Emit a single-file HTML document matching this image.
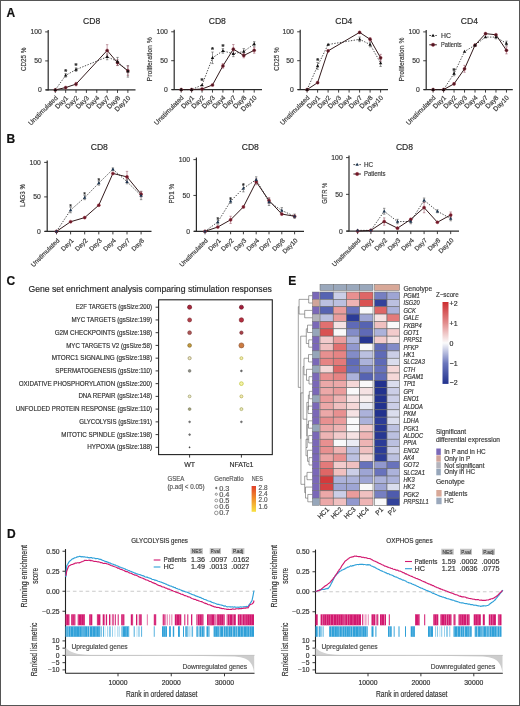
<!DOCTYPE html><html><head><meta charset="utf-8"><style>html,body{margin:0;padding:0;background:#fff;}svg{display:block;will-change:transform;}</style></head><body><svg width="520" height="706" viewBox="0 0 520 706" font-family='"Liberation Sans", sans-serif'>
<rect x="0.00" y="0.00" width="520.00" height="706.00" fill="#fff"/>
<text x="6.50" y="16.50" font-size="12" text-anchor="start" fill="#111" stroke="#111" stroke-width="0.18" font-weight="bold">A</text>
<line x1="48.20" y1="29.90" x2="48.20" y2="90.40" stroke="#2a2a2a" stroke-width="1.2"/>
<line x1="45.70" y1="89.90" x2="135.50" y2="89.90" stroke="#2a2a2a" stroke-width="1.3"/>
<line x1="45.20" y1="89.90" x2="48.20" y2="89.90" stroke="#2a2a2a" stroke-width="0.9"/>
<text x="41.90" y="92.30" font-size="6.8" text-anchor="end" fill="#3a3a3a" stroke="#3a3a3a" stroke-width="0.18">0</text>
<line x1="45.20" y1="60.90" x2="48.20" y2="60.90" stroke="#2a2a2a" stroke-width="0.9"/>
<text x="41.90" y="63.30" font-size="6.8" text-anchor="end" fill="#3a3a3a" stroke="#3a3a3a" stroke-width="0.18">50</text>
<line x1="45.20" y1="31.90" x2="48.20" y2="31.90" stroke="#2a2a2a" stroke-width="0.9"/>
<text x="41.90" y="34.30" font-size="6.8" text-anchor="end" fill="#3a3a3a" stroke="#3a3a3a" stroke-width="0.18">100</text>
<line x1="55.30" y1="89.90" x2="55.30" y2="92.90" stroke="#2a2a2a" stroke-width="0.9"/>
<text x="58.30" y="98.40" font-size="6.65" text-anchor="end" fill="#3a3a3a" stroke="#3a3a3a" stroke-width="0.18" transform="rotate(-45 58.3 98.4)">Unstimulated</text>
<line x1="65.67" y1="89.90" x2="65.67" y2="92.90" stroke="#2a2a2a" stroke-width="0.9"/>
<text x="68.67" y="98.40" font-size="6.65" text-anchor="end" fill="#3a3a3a" stroke="#3a3a3a" stroke-width="0.18" transform="rotate(-45 68.67 98.4)">Day1</text>
<line x1="76.04" y1="89.90" x2="76.04" y2="92.90" stroke="#2a2a2a" stroke-width="0.9"/>
<text x="79.04" y="98.40" font-size="6.65" text-anchor="end" fill="#3a3a3a" stroke="#3a3a3a" stroke-width="0.18" transform="rotate(-45 79.03999999999999 98.4)">Day2</text>
<line x1="86.41" y1="89.90" x2="86.41" y2="92.90" stroke="#2a2a2a" stroke-width="0.9"/>
<text x="89.41" y="98.40" font-size="6.65" text-anchor="end" fill="#3a3a3a" stroke="#3a3a3a" stroke-width="0.18" transform="rotate(-45 89.41 98.4)">Day3</text>
<line x1="96.78" y1="89.90" x2="96.78" y2="92.90" stroke="#2a2a2a" stroke-width="0.9"/>
<text x="99.78" y="98.40" font-size="6.65" text-anchor="end" fill="#3a3a3a" stroke="#3a3a3a" stroke-width="0.18" transform="rotate(-45 99.78 98.4)">Day4</text>
<line x1="107.15" y1="89.90" x2="107.15" y2="92.90" stroke="#2a2a2a" stroke-width="0.9"/>
<text x="110.15" y="98.40" font-size="6.65" text-anchor="end" fill="#3a3a3a" stroke="#3a3a3a" stroke-width="0.18" transform="rotate(-45 110.14999999999999 98.4)">Day7</text>
<line x1="117.52" y1="89.90" x2="117.52" y2="92.90" stroke="#2a2a2a" stroke-width="0.9"/>
<text x="120.52" y="98.40" font-size="6.65" text-anchor="end" fill="#3a3a3a" stroke="#3a3a3a" stroke-width="0.18" transform="rotate(-45 120.52 98.4)">Day8</text>
<line x1="127.89" y1="89.90" x2="127.89" y2="92.90" stroke="#2a2a2a" stroke-width="0.9"/>
<text x="130.89" y="98.40" font-size="6.65" text-anchor="end" fill="#3a3a3a" stroke="#3a3a3a" stroke-width="0.18" transform="rotate(-45 130.89 98.4)">Day10</text>
<text x="91.70" y="23.70" font-size="9.3" text-anchor="middle" fill="#2a2a2a" stroke="#2a2a2a" stroke-width="0.18" textLength="17.2" lengthAdjust="spacingAndGlyphs">CD8</text>
<text x="26.20" y="59.30" font-size="8.0" text-anchor="middle" fill="#3a3a3a" stroke="#3a3a3a" stroke-width="0.18" transform="rotate(-90 26.2 59.3)" textLength="23.5" lengthAdjust="spacingAndGlyphs">CD25 %</text>
<path d="M55.30 89.90 L65.67 87.58 L76.04 84.10 L107.15 50.46 L117.52 62.64 L127.89 70.76" fill="none" stroke="#331a1c" stroke-width="1"/>
<path d="M55.30 89.90 L65.67 75.40 L76.04 69.60 L107.15 56.84 L117.52 61.48 L127.89 71.34" fill="none" stroke="#222" stroke-width="0.8" stroke-dasharray="1.4 1.4"/>
<line x1="65.67" y1="77.14" x2="65.67" y2="73.66" stroke="#555" stroke-width="0.6"/>
<line x1="64.47" y1="73.66" x2="66.87" y2="73.66" stroke="#555" stroke-width="0.6"/>
<line x1="64.47" y1="77.14" x2="66.87" y2="77.14" stroke="#555" stroke-width="0.6"/>
<line x1="76.04" y1="71.34" x2="76.04" y2="67.86" stroke="#555" stroke-width="0.6"/>
<line x1="74.84" y1="67.86" x2="77.24" y2="67.86" stroke="#555" stroke-width="0.6"/>
<line x1="74.84" y1="71.34" x2="77.24" y2="71.34" stroke="#555" stroke-width="0.6"/>
<line x1="107.15" y1="59.74" x2="107.15" y2="53.94" stroke="#555" stroke-width="0.6"/>
<line x1="105.95" y1="53.94" x2="108.35" y2="53.94" stroke="#555" stroke-width="0.6"/>
<line x1="105.95" y1="59.74" x2="108.35" y2="59.74" stroke="#555" stroke-width="0.6"/>
<line x1="117.52" y1="65.54" x2="117.52" y2="57.42" stroke="#555" stroke-width="0.6"/>
<line x1="116.32" y1="57.42" x2="118.72" y2="57.42" stroke="#555" stroke-width="0.6"/>
<line x1="116.32" y1="65.54" x2="118.72" y2="65.54" stroke="#555" stroke-width="0.6"/>
<line x1="127.89" y1="77.14" x2="127.89" y2="65.54" stroke="#555" stroke-width="0.6"/>
<line x1="126.69" y1="65.54" x2="129.09" y2="65.54" stroke="#555" stroke-width="0.6"/>
<line x1="126.69" y1="77.14" x2="129.09" y2="77.14" stroke="#555" stroke-width="0.6"/>
<line x1="107.15" y1="56.26" x2="107.15" y2="44.66" stroke="#a06070" stroke-width="0.6"/>
<line x1="105.95" y1="44.66" x2="108.35" y2="44.66" stroke="#a06070" stroke-width="0.6"/>
<line x1="105.95" y1="56.26" x2="108.35" y2="56.26" stroke="#a06070" stroke-width="0.6"/>
<line x1="117.52" y1="65.54" x2="117.52" y2="59.74" stroke="#a06070" stroke-width="0.6"/>
<line x1="116.32" y1="59.74" x2="118.72" y2="59.74" stroke="#a06070" stroke-width="0.6"/>
<line x1="116.32" y1="65.54" x2="118.72" y2="65.54" stroke="#a06070" stroke-width="0.6"/>
<line x1="127.89" y1="75.40" x2="127.89" y2="66.12" stroke="#a06070" stroke-width="0.6"/>
<line x1="126.69" y1="66.12" x2="129.09" y2="66.12" stroke="#a06070" stroke-width="0.6"/>
<line x1="126.69" y1="75.40" x2="129.09" y2="75.40" stroke="#a06070" stroke-width="0.6"/>
<line x1="76.04" y1="85.84" x2="76.04" y2="82.36" stroke="#a06070" stroke-width="0.6"/>
<line x1="74.84" y1="82.36" x2="77.24" y2="82.36" stroke="#a06070" stroke-width="0.6"/>
<line x1="74.84" y1="85.84" x2="77.24" y2="85.84" stroke="#a06070" stroke-width="0.6"/>
<circle cx="55.30" cy="89.90" r="1.55" fill="#4e1622" stroke="#9a3040" stroke-width="0.4"/>
<circle cx="65.67" cy="87.58" r="1.55" fill="#4e1622" stroke="#9a3040" stroke-width="0.4"/>
<circle cx="76.04" cy="84.10" r="1.55" fill="#4e1622" stroke="#9a3040" stroke-width="0.4"/>
<circle cx="107.15" cy="50.46" r="1.55" fill="#4e1622" stroke="#9a3040" stroke-width="0.4"/>
<circle cx="117.52" cy="62.64" r="1.55" fill="#4e1622" stroke="#9a3040" stroke-width="0.4"/>
<circle cx="127.89" cy="70.76" r="1.55" fill="#4e1622" stroke="#9a3040" stroke-width="0.4"/>
<path d="M55.30 88.06 L57.00 91.12 L53.60 91.12Z" fill="#111"/>
<path d="M65.67 73.56 L67.37 76.62 L63.97 76.62Z" fill="#111"/>
<path d="M76.04 67.76 L77.74 70.82 L74.34 70.82Z" fill="#111"/>
<path d="M107.15 55.00 L108.85 58.06 L105.45 58.06Z" fill="#111"/>
<path d="M117.52 59.64 L119.22 62.70 L115.82 62.70Z" fill="#111"/>
<path d="M127.89 69.50 L129.59 72.56 L126.19 72.56Z" fill="#111"/>
<text x="65.67" y="73.91" font-size="7.5" text-anchor="middle" fill="#222" stroke="#222" stroke-width="0.18" font-weight="bold">*</text>
<text x="76.04" y="68.40" font-size="7.5" text-anchor="middle" fill="#222" stroke="#222" stroke-width="0.18" font-weight="bold">*</text>
<line x1="174.20" y1="29.80" x2="174.20" y2="90.10" stroke="#2a2a2a" stroke-width="1.2"/>
<line x1="171.70" y1="89.60" x2="262.00" y2="89.60" stroke="#2a2a2a" stroke-width="1.3"/>
<line x1="171.20" y1="89.60" x2="174.20" y2="89.60" stroke="#2a2a2a" stroke-width="0.9"/>
<text x="167.90" y="92.00" font-size="6.8" text-anchor="end" fill="#3a3a3a" stroke="#3a3a3a" stroke-width="0.18">0</text>
<line x1="171.20" y1="60.70" x2="174.20" y2="60.70" stroke="#2a2a2a" stroke-width="0.9"/>
<text x="167.90" y="63.10" font-size="6.8" text-anchor="end" fill="#3a3a3a" stroke="#3a3a3a" stroke-width="0.18">50</text>
<line x1="171.20" y1="31.80" x2="174.20" y2="31.80" stroke="#2a2a2a" stroke-width="0.9"/>
<text x="167.90" y="34.20" font-size="6.8" text-anchor="end" fill="#3a3a3a" stroke="#3a3a3a" stroke-width="0.18">100</text>
<line x1="181.20" y1="89.60" x2="181.20" y2="92.60" stroke="#2a2a2a" stroke-width="0.9"/>
<text x="184.20" y="98.10" font-size="6.65" text-anchor="end" fill="#3a3a3a" stroke="#3a3a3a" stroke-width="0.18" transform="rotate(-45 184.2 98.1)">Unstimulated</text>
<line x1="191.63" y1="89.60" x2="191.63" y2="92.60" stroke="#2a2a2a" stroke-width="0.9"/>
<text x="194.63" y="98.10" font-size="6.65" text-anchor="end" fill="#3a3a3a" stroke="#3a3a3a" stroke-width="0.18" transform="rotate(-45 194.63 98.1)">Day1</text>
<line x1="202.06" y1="89.60" x2="202.06" y2="92.60" stroke="#2a2a2a" stroke-width="0.9"/>
<text x="205.06" y="98.10" font-size="6.65" text-anchor="end" fill="#3a3a3a" stroke="#3a3a3a" stroke-width="0.18" transform="rotate(-45 205.06 98.1)">Day2</text>
<line x1="212.49" y1="89.60" x2="212.49" y2="92.60" stroke="#2a2a2a" stroke-width="0.9"/>
<text x="215.49" y="98.10" font-size="6.65" text-anchor="end" fill="#3a3a3a" stroke="#3a3a3a" stroke-width="0.18" transform="rotate(-45 215.48999999999998 98.1)">Day3</text>
<line x1="222.92" y1="89.60" x2="222.92" y2="92.60" stroke="#2a2a2a" stroke-width="0.9"/>
<text x="225.92" y="98.10" font-size="6.65" text-anchor="end" fill="#3a3a3a" stroke="#3a3a3a" stroke-width="0.18" transform="rotate(-45 225.92 98.1)">Day4</text>
<line x1="233.35" y1="89.60" x2="233.35" y2="92.60" stroke="#2a2a2a" stroke-width="0.9"/>
<text x="236.35" y="98.10" font-size="6.65" text-anchor="end" fill="#3a3a3a" stroke="#3a3a3a" stroke-width="0.18" transform="rotate(-45 236.35 98.1)">Day7</text>
<line x1="243.78" y1="89.60" x2="243.78" y2="92.60" stroke="#2a2a2a" stroke-width="0.9"/>
<text x="246.78" y="98.10" font-size="6.65" text-anchor="end" fill="#3a3a3a" stroke="#3a3a3a" stroke-width="0.18" transform="rotate(-45 246.77999999999997 98.1)">Day8</text>
<line x1="254.21" y1="89.60" x2="254.21" y2="92.60" stroke="#2a2a2a" stroke-width="0.9"/>
<text x="257.21" y="98.10" font-size="6.65" text-anchor="end" fill="#3a3a3a" stroke="#3a3a3a" stroke-width="0.18" transform="rotate(-45 257.21 98.1)">Day10</text>
<text x="217.30" y="23.70" font-size="9.3" text-anchor="middle" fill="#2a2a2a" stroke="#2a2a2a" stroke-width="0.18" textLength="17.2" lengthAdjust="spacingAndGlyphs">CD8</text>
<text x="152.10" y="59.30" font-size="8.0" text-anchor="middle" fill="#3a3a3a" stroke="#3a3a3a" stroke-width="0.18" transform="rotate(-90 152.1 59.3)" textLength="44.2" lengthAdjust="spacingAndGlyphs">Proliferation %</text>
<path d="M181.20 89.60 L191.63 89.60 L202.06 89.02 L212.49 84.98 L222.92 65.90 L233.35 49.14 L243.78 55.50 L254.21 50.30" fill="none" stroke="#331a1c" stroke-width="1"/>
<path d="M181.20 89.60 L191.63 89.60 L202.06 84.98 L212.49 57.81 L222.92 50.87 L233.35 53.76 L243.78 51.45 L254.21 43.94" fill="none" stroke="#222" stroke-width="0.8" stroke-dasharray="1.4 1.4"/>
<line x1="212.49" y1="63.59" x2="212.49" y2="52.03" stroke="#555" stroke-width="0.6"/>
<line x1="211.29" y1="52.03" x2="213.69" y2="52.03" stroke="#555" stroke-width="0.6"/>
<line x1="211.29" y1="63.59" x2="213.69" y2="63.59" stroke="#555" stroke-width="0.6"/>
<line x1="222.92" y1="53.19" x2="222.92" y2="48.56" stroke="#555" stroke-width="0.6"/>
<line x1="221.72" y1="48.56" x2="224.12" y2="48.56" stroke="#555" stroke-width="0.6"/>
<line x1="221.72" y1="53.19" x2="224.12" y2="53.19" stroke="#555" stroke-width="0.6"/>
<line x1="233.35" y1="56.65" x2="233.35" y2="50.87" stroke="#555" stroke-width="0.6"/>
<line x1="232.15" y1="50.87" x2="234.55" y2="50.87" stroke="#555" stroke-width="0.6"/>
<line x1="232.15" y1="56.65" x2="234.55" y2="56.65" stroke="#555" stroke-width="0.6"/>
<line x1="243.78" y1="54.34" x2="243.78" y2="48.56" stroke="#555" stroke-width="0.6"/>
<line x1="242.58" y1="48.56" x2="244.98" y2="48.56" stroke="#555" stroke-width="0.6"/>
<line x1="242.58" y1="54.34" x2="244.98" y2="54.34" stroke="#555" stroke-width="0.6"/>
<line x1="254.21" y1="46.25" x2="254.21" y2="41.63" stroke="#555" stroke-width="0.6"/>
<line x1="253.01" y1="41.63" x2="255.41" y2="41.63" stroke="#555" stroke-width="0.6"/>
<line x1="253.01" y1="46.25" x2="255.41" y2="46.25" stroke="#555" stroke-width="0.6"/>
<line x1="222.92" y1="68.21" x2="222.92" y2="63.59" stroke="#a06070" stroke-width="0.6"/>
<line x1="221.72" y1="63.59" x2="224.12" y2="63.59" stroke="#a06070" stroke-width="0.6"/>
<line x1="221.72" y1="68.21" x2="224.12" y2="68.21" stroke="#a06070" stroke-width="0.6"/>
<line x1="233.35" y1="53.76" x2="233.35" y2="44.52" stroke="#a06070" stroke-width="0.6"/>
<line x1="232.15" y1="44.52" x2="234.55" y2="44.52" stroke="#a06070" stroke-width="0.6"/>
<line x1="232.15" y1="53.76" x2="234.55" y2="53.76" stroke="#a06070" stroke-width="0.6"/>
<line x1="243.78" y1="57.81" x2="243.78" y2="53.19" stroke="#a06070" stroke-width="0.6"/>
<line x1="242.58" y1="53.19" x2="244.98" y2="53.19" stroke="#a06070" stroke-width="0.6"/>
<line x1="242.58" y1="57.81" x2="244.98" y2="57.81" stroke="#a06070" stroke-width="0.6"/>
<line x1="254.21" y1="53.19" x2="254.21" y2="47.41" stroke="#a06070" stroke-width="0.6"/>
<line x1="253.01" y1="47.41" x2="255.41" y2="47.41" stroke="#a06070" stroke-width="0.6"/>
<line x1="253.01" y1="53.19" x2="255.41" y2="53.19" stroke="#a06070" stroke-width="0.6"/>
<circle cx="181.20" cy="89.60" r="1.55" fill="#4e1622" stroke="#9a3040" stroke-width="0.4"/>
<circle cx="191.63" cy="89.60" r="1.55" fill="#4e1622" stroke="#9a3040" stroke-width="0.4"/>
<circle cx="202.06" cy="89.02" r="1.55" fill="#4e1622" stroke="#9a3040" stroke-width="0.4"/>
<circle cx="212.49" cy="84.98" r="1.55" fill="#4e1622" stroke="#9a3040" stroke-width="0.4"/>
<circle cx="222.92" cy="65.90" r="1.55" fill="#4e1622" stroke="#9a3040" stroke-width="0.4"/>
<circle cx="233.35" cy="49.14" r="1.55" fill="#4e1622" stroke="#9a3040" stroke-width="0.4"/>
<circle cx="243.78" cy="55.50" r="1.55" fill="#4e1622" stroke="#9a3040" stroke-width="0.4"/>
<circle cx="254.21" cy="50.30" r="1.55" fill="#4e1622" stroke="#9a3040" stroke-width="0.4"/>
<path d="M181.20 87.76 L182.90 90.82 L179.50 90.82Z" fill="#111"/>
<path d="M191.63 87.76 L193.33 90.82 L189.93 90.82Z" fill="#111"/>
<path d="M202.06 83.14 L203.76 86.20 L200.36 86.20Z" fill="#111"/>
<path d="M212.49 55.97 L214.19 59.03 L210.79 59.03Z" fill="#111"/>
<path d="M222.92 49.04 L224.62 52.10 L221.22 52.10Z" fill="#111"/>
<path d="M233.35 51.93 L235.05 54.99 L231.65 54.99Z" fill="#111"/>
<path d="M243.78 49.62 L245.48 52.68 L242.08 52.68Z" fill="#111"/>
<path d="M254.21 42.10 L255.91 45.16 L252.51 45.16Z" fill="#111"/>
<text x="202.06" y="83.05" font-size="7.5" text-anchor="middle" fill="#222" stroke="#222" stroke-width="0.18" font-weight="bold">*</text>
<text x="212.49" y="51.83" font-size="7.5" text-anchor="middle" fill="#222" stroke="#222" stroke-width="0.18" font-weight="bold">*</text>
<text x="222.92" y="48.83" font-size="7.5" text-anchor="middle" fill="#222" stroke="#222" stroke-width="0.18" font-weight="bold">*</text>
<line x1="300.20" y1="29.80" x2="300.20" y2="90.10" stroke="#2a2a2a" stroke-width="1.2"/>
<line x1="297.70" y1="89.60" x2="388.00" y2="89.60" stroke="#2a2a2a" stroke-width="1.3"/>
<line x1="297.20" y1="89.60" x2="300.20" y2="89.60" stroke="#2a2a2a" stroke-width="0.9"/>
<text x="293.90" y="92.00" font-size="6.8" text-anchor="end" fill="#3a3a3a" stroke="#3a3a3a" stroke-width="0.18">0</text>
<line x1="297.20" y1="60.70" x2="300.20" y2="60.70" stroke="#2a2a2a" stroke-width="0.9"/>
<text x="293.90" y="63.10" font-size="6.8" text-anchor="end" fill="#3a3a3a" stroke="#3a3a3a" stroke-width="0.18">50</text>
<line x1="297.20" y1="31.80" x2="300.20" y2="31.80" stroke="#2a2a2a" stroke-width="0.9"/>
<text x="293.90" y="34.20" font-size="6.8" text-anchor="end" fill="#3a3a3a" stroke="#3a3a3a" stroke-width="0.18">100</text>
<line x1="307.10" y1="89.60" x2="307.10" y2="92.60" stroke="#2a2a2a" stroke-width="0.9"/>
<text x="310.10" y="98.10" font-size="6.65" text-anchor="end" fill="#3a3a3a" stroke="#3a3a3a" stroke-width="0.18" transform="rotate(-45 310.1 98.1)">Unstimulated</text>
<line x1="317.60" y1="89.60" x2="317.60" y2="92.60" stroke="#2a2a2a" stroke-width="0.9"/>
<text x="320.60" y="98.10" font-size="6.65" text-anchor="end" fill="#3a3a3a" stroke="#3a3a3a" stroke-width="0.18" transform="rotate(-45 320.6 98.1)">Day1</text>
<line x1="328.10" y1="89.60" x2="328.10" y2="92.60" stroke="#2a2a2a" stroke-width="0.9"/>
<text x="331.10" y="98.10" font-size="6.65" text-anchor="end" fill="#3a3a3a" stroke="#3a3a3a" stroke-width="0.18" transform="rotate(-45 331.1 98.1)">Day2</text>
<line x1="338.60" y1="89.60" x2="338.60" y2="92.60" stroke="#2a2a2a" stroke-width="0.9"/>
<text x="341.60" y="98.10" font-size="6.65" text-anchor="end" fill="#3a3a3a" stroke="#3a3a3a" stroke-width="0.18" transform="rotate(-45 341.6 98.1)">Day3</text>
<line x1="349.10" y1="89.60" x2="349.10" y2="92.60" stroke="#2a2a2a" stroke-width="0.9"/>
<text x="352.10" y="98.10" font-size="6.65" text-anchor="end" fill="#3a3a3a" stroke="#3a3a3a" stroke-width="0.18" transform="rotate(-45 352.1 98.1)">Day4</text>
<line x1="359.60" y1="89.60" x2="359.60" y2="92.60" stroke="#2a2a2a" stroke-width="0.9"/>
<text x="362.60" y="98.10" font-size="6.65" text-anchor="end" fill="#3a3a3a" stroke="#3a3a3a" stroke-width="0.18" transform="rotate(-45 362.6 98.1)">Day7</text>
<line x1="370.10" y1="89.60" x2="370.10" y2="92.60" stroke="#2a2a2a" stroke-width="0.9"/>
<text x="373.10" y="98.10" font-size="6.65" text-anchor="end" fill="#3a3a3a" stroke="#3a3a3a" stroke-width="0.18" transform="rotate(-45 373.1 98.1)">Day8</text>
<line x1="380.60" y1="89.60" x2="380.60" y2="92.60" stroke="#2a2a2a" stroke-width="0.9"/>
<text x="383.60" y="98.10" font-size="6.65" text-anchor="end" fill="#3a3a3a" stroke="#3a3a3a" stroke-width="0.18" transform="rotate(-45 383.6 98.1)">Day10</text>
<text x="343.80" y="23.70" font-size="9.3" text-anchor="middle" fill="#2a2a2a" stroke="#2a2a2a" stroke-width="0.18" textLength="17.2" lengthAdjust="spacingAndGlyphs">CD4</text>
<text x="278.60" y="59.10" font-size="8.0" text-anchor="middle" fill="#3a3a3a" stroke="#3a3a3a" stroke-width="0.18" transform="rotate(-90 278.6 59.1)" textLength="23.4" lengthAdjust="spacingAndGlyphs">CD25 %</text>
<path d="M307.10 89.60 L317.60 82.66 L328.10 50.87 L359.60 32.38 L370.10 39.31 L380.60 57.81" fill="none" stroke="#331a1c" stroke-width="1"/>
<path d="M307.10 89.60 L317.60 65.90 L328.10 44.52 L359.60 39.31 L370.10 44.52 L380.60 63.01" fill="none" stroke="#222" stroke-width="0.8" stroke-dasharray="1.4 1.4"/>
<line x1="317.60" y1="69.37" x2="317.60" y2="62.43" stroke="#555" stroke-width="0.6"/>
<line x1="316.40" y1="62.43" x2="318.80" y2="62.43" stroke="#555" stroke-width="0.6"/>
<line x1="316.40" y1="69.37" x2="318.80" y2="69.37" stroke="#555" stroke-width="0.6"/>
<line x1="359.60" y1="41.63" x2="359.60" y2="37.00" stroke="#555" stroke-width="0.6"/>
<line x1="358.40" y1="37.00" x2="360.80" y2="37.00" stroke="#555" stroke-width="0.6"/>
<line x1="358.40" y1="41.63" x2="360.80" y2="41.63" stroke="#555" stroke-width="0.6"/>
<line x1="370.10" y1="46.83" x2="370.10" y2="42.20" stroke="#555" stroke-width="0.6"/>
<line x1="368.90" y1="42.20" x2="371.30" y2="42.20" stroke="#555" stroke-width="0.6"/>
<line x1="368.90" y1="46.83" x2="371.30" y2="46.83" stroke="#555" stroke-width="0.6"/>
<line x1="380.60" y1="66.48" x2="380.60" y2="59.54" stroke="#555" stroke-width="0.6"/>
<line x1="379.40" y1="59.54" x2="381.80" y2="59.54" stroke="#555" stroke-width="0.6"/>
<line x1="379.40" y1="66.48" x2="381.80" y2="66.48" stroke="#555" stroke-width="0.6"/>
<line x1="370.10" y1="41.05" x2="370.10" y2="37.58" stroke="#a06070" stroke-width="0.6"/>
<line x1="368.90" y1="37.58" x2="371.30" y2="37.58" stroke="#a06070" stroke-width="0.6"/>
<line x1="368.90" y1="41.05" x2="371.30" y2="41.05" stroke="#a06070" stroke-width="0.6"/>
<line x1="380.60" y1="61.28" x2="380.60" y2="54.34" stroke="#a06070" stroke-width="0.6"/>
<line x1="379.40" y1="54.34" x2="381.80" y2="54.34" stroke="#a06070" stroke-width="0.6"/>
<line x1="379.40" y1="61.28" x2="381.80" y2="61.28" stroke="#a06070" stroke-width="0.6"/>
<circle cx="307.10" cy="89.60" r="1.55" fill="#4e1622" stroke="#9a3040" stroke-width="0.4"/>
<circle cx="317.60" cy="82.66" r="1.55" fill="#4e1622" stroke="#9a3040" stroke-width="0.4"/>
<circle cx="328.10" cy="50.87" r="1.55" fill="#4e1622" stroke="#9a3040" stroke-width="0.4"/>
<circle cx="359.60" cy="32.38" r="1.55" fill="#4e1622" stroke="#9a3040" stroke-width="0.4"/>
<circle cx="370.10" cy="39.31" r="1.55" fill="#4e1622" stroke="#9a3040" stroke-width="0.4"/>
<circle cx="380.60" cy="57.81" r="1.55" fill="#4e1622" stroke="#9a3040" stroke-width="0.4"/>
<path d="M307.10 87.76 L308.80 90.82 L305.40 90.82Z" fill="#111"/>
<path d="M317.60 64.07 L319.30 67.13 L315.90 67.13Z" fill="#111"/>
<path d="M328.10 42.68 L329.80 45.74 L326.40 45.74Z" fill="#111"/>
<path d="M359.60 37.48 L361.30 40.54 L357.90 40.54Z" fill="#111"/>
<path d="M370.10 42.68 L371.80 45.74 L368.40 45.74Z" fill="#111"/>
<path d="M380.60 61.18 L382.30 64.24 L378.90 64.24Z" fill="#111"/>
<text x="317.60" y="62.82" font-size="7.5" text-anchor="middle" fill="#222" stroke="#222" stroke-width="0.18" font-weight="bold">*</text>
<line x1="426.20" y1="29.90" x2="426.20" y2="90.10" stroke="#2a2a2a" stroke-width="1.2"/>
<line x1="423.70" y1="89.60" x2="512.80" y2="89.60" stroke="#2a2a2a" stroke-width="1.3"/>
<line x1="423.20" y1="89.60" x2="426.20" y2="89.60" stroke="#2a2a2a" stroke-width="0.9"/>
<text x="419.90" y="92.00" font-size="6.8" text-anchor="end" fill="#3a3a3a" stroke="#3a3a3a" stroke-width="0.18">0</text>
<line x1="423.20" y1="60.75" x2="426.20" y2="60.75" stroke="#2a2a2a" stroke-width="0.9"/>
<text x="419.90" y="63.15" font-size="6.8" text-anchor="end" fill="#3a3a3a" stroke="#3a3a3a" stroke-width="0.18">50</text>
<line x1="423.20" y1="31.90" x2="426.20" y2="31.90" stroke="#2a2a2a" stroke-width="0.9"/>
<text x="419.90" y="34.30" font-size="6.8" text-anchor="end" fill="#3a3a3a" stroke="#3a3a3a" stroke-width="0.18">100</text>
<line x1="433.10" y1="89.60" x2="433.10" y2="92.60" stroke="#2a2a2a" stroke-width="0.9"/>
<text x="436.10" y="98.10" font-size="6.65" text-anchor="end" fill="#3a3a3a" stroke="#3a3a3a" stroke-width="0.18" transform="rotate(-45 436.1 98.1)">Unstimulated</text>
<line x1="443.58" y1="89.60" x2="443.58" y2="92.60" stroke="#2a2a2a" stroke-width="0.9"/>
<text x="446.58" y="98.10" font-size="6.65" text-anchor="end" fill="#3a3a3a" stroke="#3a3a3a" stroke-width="0.18" transform="rotate(-45 446.58000000000004 98.1)">Day1</text>
<line x1="454.06" y1="89.60" x2="454.06" y2="92.60" stroke="#2a2a2a" stroke-width="0.9"/>
<text x="457.06" y="98.10" font-size="6.65" text-anchor="end" fill="#3a3a3a" stroke="#3a3a3a" stroke-width="0.18" transform="rotate(-45 457.06 98.1)">Day2</text>
<line x1="464.54" y1="89.60" x2="464.54" y2="92.60" stroke="#2a2a2a" stroke-width="0.9"/>
<text x="467.54" y="98.10" font-size="6.65" text-anchor="end" fill="#3a3a3a" stroke="#3a3a3a" stroke-width="0.18" transform="rotate(-45 467.54 98.1)">Day3</text>
<line x1="475.02" y1="89.60" x2="475.02" y2="92.60" stroke="#2a2a2a" stroke-width="0.9"/>
<text x="478.02" y="98.10" font-size="6.65" text-anchor="end" fill="#3a3a3a" stroke="#3a3a3a" stroke-width="0.18" transform="rotate(-45 478.02000000000004 98.1)">Day4</text>
<line x1="485.50" y1="89.60" x2="485.50" y2="92.60" stroke="#2a2a2a" stroke-width="0.9"/>
<text x="488.50" y="98.10" font-size="6.65" text-anchor="end" fill="#3a3a3a" stroke="#3a3a3a" stroke-width="0.18" transform="rotate(-45 488.5 98.1)">Day7</text>
<line x1="495.98" y1="89.60" x2="495.98" y2="92.60" stroke="#2a2a2a" stroke-width="0.9"/>
<text x="498.98" y="98.10" font-size="6.65" text-anchor="end" fill="#3a3a3a" stroke="#3a3a3a" stroke-width="0.18" transform="rotate(-45 498.98 98.1)">Day8</text>
<line x1="506.46" y1="89.60" x2="506.46" y2="92.60" stroke="#2a2a2a" stroke-width="0.9"/>
<text x="509.46" y="98.10" font-size="6.65" text-anchor="end" fill="#3a3a3a" stroke="#3a3a3a" stroke-width="0.18" transform="rotate(-45 509.46000000000004 98.1)">Day10</text>
<text x="469.40" y="23.70" font-size="9.3" text-anchor="middle" fill="#2a2a2a" stroke="#2a2a2a" stroke-width="0.18" textLength="17.2" lengthAdjust="spacingAndGlyphs">CD4</text>
<text x="403.90" y="59.50" font-size="8.0" text-anchor="middle" fill="#3a3a3a" stroke="#3a3a3a" stroke-width="0.18" transform="rotate(-90 403.9 59.5)" textLength="43.8" lengthAdjust="spacingAndGlyphs">Proliferation %</text>
<path d="M433.10 89.60 L443.58 89.60 L454.06 83.83 L464.54 68.83 L475.02 45.17 L485.50 33.63 L495.98 34.78 L506.46 50.36" fill="none" stroke="#331a1c" stroke-width="1"/>
<path d="M433.10 89.60 L443.58 89.60 L454.06 73.44 L464.54 51.52 L475.02 45.17 L485.50 37.09 L495.98 37.09 L506.46 43.44" fill="none" stroke="#222" stroke-width="0.8" stroke-dasharray="1.4 1.4"/>
<line x1="454.06" y1="75.75" x2="454.06" y2="71.14" stroke="#555" stroke-width="0.6"/>
<line x1="452.86" y1="71.14" x2="455.26" y2="71.14" stroke="#555" stroke-width="0.6"/>
<line x1="452.86" y1="75.75" x2="455.26" y2="75.75" stroke="#555" stroke-width="0.6"/>
<line x1="495.98" y1="38.82" x2="495.98" y2="35.36" stroke="#555" stroke-width="0.6"/>
<line x1="494.78" y1="35.36" x2="497.18" y2="35.36" stroke="#555" stroke-width="0.6"/>
<line x1="494.78" y1="38.82" x2="497.18" y2="38.82" stroke="#555" stroke-width="0.6"/>
<line x1="506.46" y1="45.75" x2="506.46" y2="41.13" stroke="#555" stroke-width="0.6"/>
<line x1="505.26" y1="41.13" x2="507.66" y2="41.13" stroke="#555" stroke-width="0.6"/>
<line x1="505.26" y1="45.75" x2="507.66" y2="45.75" stroke="#555" stroke-width="0.6"/>
<line x1="454.06" y1="84.98" x2="454.06" y2="82.68" stroke="#a06070" stroke-width="0.6"/>
<line x1="452.86" y1="82.68" x2="455.26" y2="82.68" stroke="#a06070" stroke-width="0.6"/>
<line x1="452.86" y1="84.98" x2="455.26" y2="84.98" stroke="#a06070" stroke-width="0.6"/>
<line x1="464.54" y1="72.29" x2="464.54" y2="65.37" stroke="#a06070" stroke-width="0.6"/>
<line x1="463.34" y1="65.37" x2="465.74" y2="65.37" stroke="#a06070" stroke-width="0.6"/>
<line x1="463.34" y1="72.29" x2="465.74" y2="72.29" stroke="#a06070" stroke-width="0.6"/>
<line x1="506.46" y1="53.83" x2="506.46" y2="46.90" stroke="#a06070" stroke-width="0.6"/>
<line x1="505.26" y1="46.90" x2="507.66" y2="46.90" stroke="#a06070" stroke-width="0.6"/>
<line x1="505.26" y1="53.83" x2="507.66" y2="53.83" stroke="#a06070" stroke-width="0.6"/>
<circle cx="433.10" cy="89.60" r="1.55" fill="#4e1622" stroke="#9a3040" stroke-width="0.4"/>
<circle cx="443.58" cy="89.60" r="1.55" fill="#4e1622" stroke="#9a3040" stroke-width="0.4"/>
<circle cx="454.06" cy="83.83" r="1.55" fill="#4e1622" stroke="#9a3040" stroke-width="0.4"/>
<circle cx="464.54" cy="68.83" r="1.55" fill="#4e1622" stroke="#9a3040" stroke-width="0.4"/>
<circle cx="475.02" cy="45.17" r="1.55" fill="#4e1622" stroke="#9a3040" stroke-width="0.4"/>
<circle cx="485.50" cy="33.63" r="1.55" fill="#4e1622" stroke="#9a3040" stroke-width="0.4"/>
<circle cx="495.98" cy="34.78" r="1.55" fill="#4e1622" stroke="#9a3040" stroke-width="0.4"/>
<circle cx="506.46" cy="50.36" r="1.55" fill="#4e1622" stroke="#9a3040" stroke-width="0.4"/>
<path d="M433.10 87.76 L434.80 90.82 L431.40 90.82Z" fill="#111"/>
<path d="M443.58 87.76 L445.28 90.82 L441.88 90.82Z" fill="#111"/>
<path d="M454.06 71.61 L455.76 74.67 L452.36 74.67Z" fill="#111"/>
<path d="M464.54 49.68 L466.24 52.74 L462.84 52.74Z" fill="#111"/>
<path d="M475.02 43.34 L476.72 46.39 L473.32 46.39Z" fill="#111"/>
<path d="M485.50 35.26 L487.20 38.32 L483.80 38.32Z" fill="#111"/>
<path d="M495.98 35.26 L497.68 38.32 L494.28 38.32Z" fill="#111"/>
<path d="M506.46 41.60 L508.16 44.66 L504.76 44.66Z" fill="#111"/>
<text x="454.06" y="73.14" font-size="7.5" text-anchor="middle" fill="#222" stroke="#222" stroke-width="0.18" font-weight="bold">*</text>
<path d="M429.30 35.50 L436.80 35.50" stroke="#222" stroke-width="0.8" stroke-dasharray="1.8 1.2"/>
<path d="M433.05 33.66 L434.75 36.72 L431.35 36.72Z" fill="#111"/>
<line x1="429.30" y1="44.80" x2="436.80" y2="44.80" stroke="#331a1c" stroke-width="1"/>
<circle cx="433.05" cy="44.80" r="1.7" fill="#4e1622" stroke="#9a3040" stroke-width="0.4"/>
<text x="441.00" y="37.90" font-size="6.8" text-anchor="start" fill="#3a3a3a" stroke="#3a3a3a" stroke-width="0.18">HC</text>
<text x="441.00" y="47.20" font-size="6.8" text-anchor="start" fill="#3a3a3a" stroke="#3a3a3a" stroke-width="0.18" textLength="20.6" lengthAdjust="spacingAndGlyphs">Patients</text>
<text x="6.50" y="142.50" font-size="12" text-anchor="start" fill="#111" stroke="#111" stroke-width="0.18" font-weight="bold">B</text>
<line x1="47.20" y1="160.40" x2="47.20" y2="231.90" stroke="#2a2a2a" stroke-width="1.2"/>
<line x1="44.70" y1="231.40" x2="151.50" y2="231.40" stroke="#2a2a2a" stroke-width="1.3"/>
<line x1="44.20" y1="231.40" x2="47.20" y2="231.40" stroke="#2a2a2a" stroke-width="0.9"/>
<text x="40.90" y="233.80" font-size="6.8" text-anchor="end" fill="#3a3a3a" stroke="#3a3a3a" stroke-width="0.18">0</text>
<line x1="44.20" y1="196.90" x2="47.20" y2="196.90" stroke="#2a2a2a" stroke-width="0.9"/>
<text x="40.90" y="199.30" font-size="6.8" text-anchor="end" fill="#3a3a3a" stroke="#3a3a3a" stroke-width="0.18">50</text>
<line x1="44.20" y1="162.40" x2="47.20" y2="162.40" stroke="#2a2a2a" stroke-width="0.9"/>
<text x="40.90" y="164.80" font-size="6.8" text-anchor="end" fill="#3a3a3a" stroke="#3a3a3a" stroke-width="0.18">100</text>
<line x1="56.50" y1="231.40" x2="56.50" y2="234.40" stroke="#2a2a2a" stroke-width="0.9"/>
<text x="59.90" y="241.00" font-size="6.4" text-anchor="end" fill="#3a3a3a" stroke="#3a3a3a" stroke-width="0.18" transform="rotate(-45 59.9 241.0)">Unstimulated</text>
<line x1="70.60" y1="231.40" x2="70.60" y2="234.40" stroke="#2a2a2a" stroke-width="0.9"/>
<text x="74.00" y="241.00" font-size="6.4" text-anchor="end" fill="#3a3a3a" stroke="#3a3a3a" stroke-width="0.18" transform="rotate(-45 74.0 241.0)">Day1</text>
<line x1="84.70" y1="231.40" x2="84.70" y2="234.40" stroke="#2a2a2a" stroke-width="0.9"/>
<text x="88.10" y="241.00" font-size="6.4" text-anchor="end" fill="#3a3a3a" stroke="#3a3a3a" stroke-width="0.18" transform="rotate(-45 88.10000000000001 241.0)">Day2</text>
<line x1="98.80" y1="231.40" x2="98.80" y2="234.40" stroke="#2a2a2a" stroke-width="0.9"/>
<text x="102.20" y="241.00" font-size="6.4" text-anchor="end" fill="#3a3a3a" stroke="#3a3a3a" stroke-width="0.18" transform="rotate(-45 102.2 241.0)">Day3</text>
<line x1="112.90" y1="231.40" x2="112.90" y2="234.40" stroke="#2a2a2a" stroke-width="0.9"/>
<text x="116.30" y="241.00" font-size="6.4" text-anchor="end" fill="#3a3a3a" stroke="#3a3a3a" stroke-width="0.18" transform="rotate(-45 116.30000000000001 241.0)">Day4</text>
<line x1="127.00" y1="231.40" x2="127.00" y2="234.40" stroke="#2a2a2a" stroke-width="0.9"/>
<text x="130.40" y="241.00" font-size="6.4" text-anchor="end" fill="#3a3a3a" stroke="#3a3a3a" stroke-width="0.18" transform="rotate(-45 130.4 241.0)">Day7</text>
<line x1="141.10" y1="231.40" x2="141.10" y2="234.40" stroke="#2a2a2a" stroke-width="0.9"/>
<text x="144.50" y="241.00" font-size="6.4" text-anchor="end" fill="#3a3a3a" stroke="#3a3a3a" stroke-width="0.18" transform="rotate(-45 144.5 241.0)">Day8</text>
<text x="99.30" y="149.80" font-size="9.3" text-anchor="middle" fill="#2a2a2a" stroke="#2a2a2a" stroke-width="0.18" textLength="17.2" lengthAdjust="spacingAndGlyphs">CD8</text>
<text x="25.30" y="195.50" font-size="8.0" text-anchor="middle" fill="#3a3a3a" stroke="#3a3a3a" stroke-width="0.18" transform="rotate(-90 25.3 195.5)" textLength="23" lengthAdjust="spacingAndGlyphs">LAG3 %</text>
<path d="M56.50 231.40 L70.60 221.74 L84.70 217.60 L98.80 205.18 L112.90 173.44 L127.00 176.89 L141.10 194.14" fill="none" stroke="#331a1c" stroke-width="1"/>
<path d="M56.50 231.40 L70.60 210.01 L84.70 197.59 L98.80 183.10 L112.90 169.30 L127.00 181.72 L141.10 195.52" fill="none" stroke="#222" stroke-width="0.8" stroke-dasharray="1.4 1.4"/>
<line x1="70.60" y1="212.77" x2="70.60" y2="207.25" stroke="#555" stroke-width="0.6"/>
<line x1="69.40" y1="207.25" x2="71.80" y2="207.25" stroke="#555" stroke-width="0.6"/>
<line x1="69.40" y1="212.77" x2="71.80" y2="212.77" stroke="#555" stroke-width="0.6"/>
<line x1="84.70" y1="199.66" x2="84.70" y2="195.52" stroke="#555" stroke-width="0.6"/>
<line x1="83.50" y1="195.52" x2="85.90" y2="195.52" stroke="#555" stroke-width="0.6"/>
<line x1="83.50" y1="199.66" x2="85.90" y2="199.66" stroke="#555" stroke-width="0.6"/>
<line x1="98.80" y1="185.17" x2="98.80" y2="181.03" stroke="#555" stroke-width="0.6"/>
<line x1="97.60" y1="181.03" x2="100.00" y2="181.03" stroke="#555" stroke-width="0.6"/>
<line x1="97.60" y1="185.17" x2="100.00" y2="185.17" stroke="#555" stroke-width="0.6"/>
<line x1="112.90" y1="170.68" x2="112.90" y2="167.92" stroke="#555" stroke-width="0.6"/>
<line x1="111.70" y1="167.92" x2="114.10" y2="167.92" stroke="#555" stroke-width="0.6"/>
<line x1="111.70" y1="170.68" x2="114.10" y2="170.68" stroke="#555" stroke-width="0.6"/>
<line x1="127.00" y1="183.79" x2="127.00" y2="179.65" stroke="#555" stroke-width="0.6"/>
<line x1="125.80" y1="179.65" x2="128.20" y2="179.65" stroke="#555" stroke-width="0.6"/>
<line x1="125.80" y1="183.79" x2="128.20" y2="183.79" stroke="#555" stroke-width="0.6"/>
<line x1="141.10" y1="199.66" x2="141.10" y2="191.38" stroke="#555" stroke-width="0.6"/>
<line x1="139.90" y1="191.38" x2="142.30" y2="191.38" stroke="#555" stroke-width="0.6"/>
<line x1="139.90" y1="199.66" x2="142.30" y2="199.66" stroke="#555" stroke-width="0.6"/>
<line x1="127.00" y1="182.41" x2="127.00" y2="171.37" stroke="#a06070" stroke-width="0.6"/>
<line x1="125.80" y1="171.37" x2="128.20" y2="171.37" stroke="#a06070" stroke-width="0.6"/>
<line x1="125.80" y1="182.41" x2="128.20" y2="182.41" stroke="#a06070" stroke-width="0.6"/>
<line x1="141.10" y1="196.90" x2="141.10" y2="191.38" stroke="#a06070" stroke-width="0.6"/>
<line x1="139.90" y1="191.38" x2="142.30" y2="191.38" stroke="#a06070" stroke-width="0.6"/>
<line x1="139.90" y1="196.90" x2="142.30" y2="196.90" stroke="#a06070" stroke-width="0.6"/>
<circle cx="56.50" cy="231.40" r="1.55" fill="#6e1828" stroke="#9a3040" stroke-width="0.4"/>
<circle cx="70.60" cy="221.74" r="1.55" fill="#6e1828" stroke="#9a3040" stroke-width="0.4"/>
<circle cx="84.70" cy="217.60" r="1.55" fill="#6e1828" stroke="#9a3040" stroke-width="0.4"/>
<circle cx="98.80" cy="205.18" r="1.55" fill="#6e1828" stroke="#9a3040" stroke-width="0.4"/>
<circle cx="112.90" cy="173.44" r="1.55" fill="#6e1828" stroke="#9a3040" stroke-width="0.4"/>
<circle cx="127.00" cy="176.89" r="1.55" fill="#6e1828" stroke="#9a3040" stroke-width="0.4"/>
<circle cx="141.10" cy="194.14" r="1.55" fill="#6e1828" stroke="#9a3040" stroke-width="0.4"/>
<path d="M56.50 229.56 L58.20 232.62 L54.80 232.62Z" fill="#1c3550"/>
<path d="M70.60 208.17 L72.30 211.23 L68.90 211.23Z" fill="#1c3550"/>
<path d="M84.70 195.75 L86.40 198.81 L83.00 198.81Z" fill="#1c3550"/>
<path d="M98.80 181.26 L100.50 184.32 L97.10 184.32Z" fill="#1c3550"/>
<path d="M112.90 167.46 L114.60 170.52 L111.20 170.52Z" fill="#1c3550"/>
<path d="M127.00 179.88 L128.70 182.94 L125.30 182.94Z" fill="#1c3550"/>
<path d="M141.10 193.68 L142.80 196.74 L139.40 196.74Z" fill="#1c3550"/>
<text x="70.60" y="209.09" font-size="6.8" text-anchor="middle" fill="#222" stroke="#222" stroke-width="0.18">*</text>
<text x="84.70" y="197.36" font-size="6.8" text-anchor="middle" fill="#222" stroke="#222" stroke-width="0.18">*</text>
<text x="98.80" y="182.87" font-size="6.8" text-anchor="middle" fill="#222" stroke="#222" stroke-width="0.18">*</text>
<line x1="196.40" y1="157.60" x2="196.40" y2="231.80" stroke="#2a2a2a" stroke-width="1.2"/>
<line x1="193.90" y1="231.30" x2="304.00" y2="231.30" stroke="#2a2a2a" stroke-width="1.3"/>
<line x1="193.40" y1="231.30" x2="196.40" y2="231.30" stroke="#2a2a2a" stroke-width="0.9"/>
<text x="190.10" y="233.70" font-size="6.8" text-anchor="end" fill="#3a3a3a" stroke="#3a3a3a" stroke-width="0.18">0</text>
<line x1="193.40" y1="195.45" x2="196.40" y2="195.45" stroke="#2a2a2a" stroke-width="0.9"/>
<text x="190.10" y="197.85" font-size="6.8" text-anchor="end" fill="#3a3a3a" stroke="#3a3a3a" stroke-width="0.18">50</text>
<line x1="193.40" y1="159.60" x2="196.40" y2="159.60" stroke="#2a2a2a" stroke-width="0.9"/>
<text x="190.10" y="162.00" font-size="6.8" text-anchor="end" fill="#3a3a3a" stroke="#3a3a3a" stroke-width="0.18">100</text>
<line x1="205.00" y1="231.30" x2="205.00" y2="234.30" stroke="#2a2a2a" stroke-width="0.9"/>
<text x="208.40" y="240.90" font-size="6.4" text-anchor="end" fill="#3a3a3a" stroke="#3a3a3a" stroke-width="0.18" transform="rotate(-45 208.4 240.9)">Unstimulated</text>
<line x1="217.80" y1="231.30" x2="217.80" y2="234.30" stroke="#2a2a2a" stroke-width="0.9"/>
<text x="221.20" y="240.90" font-size="6.4" text-anchor="end" fill="#3a3a3a" stroke="#3a3a3a" stroke-width="0.18" transform="rotate(-45 221.20000000000002 240.9)">Day1</text>
<line x1="230.60" y1="231.30" x2="230.60" y2="234.30" stroke="#2a2a2a" stroke-width="0.9"/>
<text x="234.00" y="240.90" font-size="6.4" text-anchor="end" fill="#3a3a3a" stroke="#3a3a3a" stroke-width="0.18" transform="rotate(-45 234.0 240.9)">Day2</text>
<line x1="243.40" y1="231.30" x2="243.40" y2="234.30" stroke="#2a2a2a" stroke-width="0.9"/>
<text x="246.80" y="240.90" font-size="6.4" text-anchor="end" fill="#3a3a3a" stroke="#3a3a3a" stroke-width="0.18" transform="rotate(-45 246.8 240.9)">Day3</text>
<line x1="256.20" y1="231.30" x2="256.20" y2="234.30" stroke="#2a2a2a" stroke-width="0.9"/>
<text x="259.60" y="240.90" font-size="6.4" text-anchor="end" fill="#3a3a3a" stroke="#3a3a3a" stroke-width="0.18" transform="rotate(-45 259.59999999999997 240.9)">Day4</text>
<line x1="269.00" y1="231.30" x2="269.00" y2="234.30" stroke="#2a2a2a" stroke-width="0.9"/>
<text x="272.40" y="240.90" font-size="6.4" text-anchor="end" fill="#3a3a3a" stroke="#3a3a3a" stroke-width="0.18" transform="rotate(-45 272.4 240.9)">Day7</text>
<line x1="281.80" y1="231.30" x2="281.80" y2="234.30" stroke="#2a2a2a" stroke-width="0.9"/>
<text x="285.20" y="240.90" font-size="6.4" text-anchor="end" fill="#3a3a3a" stroke="#3a3a3a" stroke-width="0.18" transform="rotate(-45 285.2 240.9)">Day8</text>
<line x1="294.60" y1="231.30" x2="294.60" y2="234.30" stroke="#2a2a2a" stroke-width="0.9"/>
<text x="298.00" y="240.90" font-size="6.4" text-anchor="end" fill="#3a3a3a" stroke="#3a3a3a" stroke-width="0.18" transform="rotate(-45 298.0 240.9)">Day10</text>
<text x="250.30" y="149.80" font-size="9.3" text-anchor="middle" fill="#2a2a2a" stroke="#2a2a2a" stroke-width="0.18" textLength="17.2" lengthAdjust="spacingAndGlyphs">CD8</text>
<text x="173.60" y="193.80" font-size="8.0" text-anchor="middle" fill="#3a3a3a" stroke="#3a3a3a" stroke-width="0.18" transform="rotate(-90 173.6 193.8)" textLength="19.6" lengthAdjust="spacingAndGlyphs">PD1 %</text>
<path d="M205.00 231.30 L217.80 227.00 L230.60 219.83 L243.40 206.92 L256.20 181.83 L269.00 200.47 L281.80 214.09 L294.60 216.24" fill="none" stroke="#331a1c" stroke-width="1"/>
<path d="M205.00 231.30 L217.80 221.98 L230.60 201.19 L243.40 188.28 L256.20 179.68 L269.00 201.90 L281.80 210.51 L294.60 216.24" fill="none" stroke="#222" stroke-width="0.8" stroke-dasharray="1.4 1.4"/>
<line x1="217.80" y1="224.13" x2="217.80" y2="219.83" stroke="#555" stroke-width="0.6"/>
<line x1="216.60" y1="219.83" x2="219.00" y2="219.83" stroke="#555" stroke-width="0.6"/>
<line x1="216.60" y1="224.13" x2="219.00" y2="224.13" stroke="#555" stroke-width="0.6"/>
<line x1="230.60" y1="203.34" x2="230.60" y2="199.03" stroke="#555" stroke-width="0.6"/>
<line x1="229.40" y1="199.03" x2="231.80" y2="199.03" stroke="#555" stroke-width="0.6"/>
<line x1="229.40" y1="203.34" x2="231.80" y2="203.34" stroke="#555" stroke-width="0.6"/>
<line x1="243.40" y1="191.87" x2="243.40" y2="184.69" stroke="#555" stroke-width="0.6"/>
<line x1="242.20" y1="184.69" x2="244.60" y2="184.69" stroke="#555" stroke-width="0.6"/>
<line x1="242.20" y1="191.87" x2="244.60" y2="191.87" stroke="#555" stroke-width="0.6"/>
<line x1="256.20" y1="182.54" x2="256.20" y2="176.81" stroke="#555" stroke-width="0.6"/>
<line x1="255.00" y1="176.81" x2="257.40" y2="176.81" stroke="#555" stroke-width="0.6"/>
<line x1="255.00" y1="182.54" x2="257.40" y2="182.54" stroke="#555" stroke-width="0.6"/>
<line x1="269.00" y1="205.49" x2="269.00" y2="198.32" stroke="#555" stroke-width="0.6"/>
<line x1="267.80" y1="198.32" x2="270.20" y2="198.32" stroke="#555" stroke-width="0.6"/>
<line x1="267.80" y1="205.49" x2="270.20" y2="205.49" stroke="#555" stroke-width="0.6"/>
<line x1="281.80" y1="213.38" x2="281.80" y2="207.64" stroke="#555" stroke-width="0.6"/>
<line x1="280.60" y1="207.64" x2="283.00" y2="207.64" stroke="#555" stroke-width="0.6"/>
<line x1="280.60" y1="213.38" x2="283.00" y2="213.38" stroke="#555" stroke-width="0.6"/>
<line x1="294.60" y1="218.39" x2="294.60" y2="214.09" stroke="#555" stroke-width="0.6"/>
<line x1="293.40" y1="214.09" x2="295.80" y2="214.09" stroke="#555" stroke-width="0.6"/>
<line x1="293.40" y1="218.39" x2="295.80" y2="218.39" stroke="#555" stroke-width="0.6"/>
<line x1="230.60" y1="223.41" x2="230.60" y2="216.24" stroke="#a06070" stroke-width="0.6"/>
<line x1="229.40" y1="216.24" x2="231.80" y2="216.24" stroke="#a06070" stroke-width="0.6"/>
<line x1="229.40" y1="223.41" x2="231.80" y2="223.41" stroke="#a06070" stroke-width="0.6"/>
<line x1="256.20" y1="184.69" x2="256.20" y2="178.96" stroke="#a06070" stroke-width="0.6"/>
<line x1="255.00" y1="178.96" x2="257.40" y2="178.96" stroke="#a06070" stroke-width="0.6"/>
<line x1="255.00" y1="184.69" x2="257.40" y2="184.69" stroke="#a06070" stroke-width="0.6"/>
<line x1="269.00" y1="203.34" x2="269.00" y2="197.60" stroke="#a06070" stroke-width="0.6"/>
<line x1="267.80" y1="197.60" x2="270.20" y2="197.60" stroke="#a06070" stroke-width="0.6"/>
<line x1="267.80" y1="203.34" x2="270.20" y2="203.34" stroke="#a06070" stroke-width="0.6"/>
<circle cx="205.00" cy="231.30" r="1.55" fill="#6e1828" stroke="#9a3040" stroke-width="0.4"/>
<circle cx="217.80" cy="227.00" r="1.55" fill="#6e1828" stroke="#9a3040" stroke-width="0.4"/>
<circle cx="230.60" cy="219.83" r="1.55" fill="#6e1828" stroke="#9a3040" stroke-width="0.4"/>
<circle cx="243.40" cy="206.92" r="1.55" fill="#6e1828" stroke="#9a3040" stroke-width="0.4"/>
<circle cx="256.20" cy="181.83" r="1.55" fill="#6e1828" stroke="#9a3040" stroke-width="0.4"/>
<circle cx="269.00" cy="200.47" r="1.55" fill="#6e1828" stroke="#9a3040" stroke-width="0.4"/>
<circle cx="281.80" cy="214.09" r="1.55" fill="#6e1828" stroke="#9a3040" stroke-width="0.4"/>
<circle cx="294.60" cy="216.24" r="1.55" fill="#6e1828" stroke="#9a3040" stroke-width="0.4"/>
<path d="M205.00 229.46 L206.70 232.52 L203.30 232.52Z" fill="#1c3550"/>
<path d="M217.80 220.14 L219.50 223.20 L216.10 223.20Z" fill="#1c3550"/>
<path d="M230.60 199.35 L232.30 202.41 L228.90 202.41Z" fill="#1c3550"/>
<path d="M243.40 186.44 L245.10 189.50 L241.70 189.50Z" fill="#1c3550"/>
<path d="M256.20 177.84 L257.90 180.90 L254.50 180.90Z" fill="#1c3550"/>
<path d="M269.00 200.07 L270.70 203.13 L267.30 203.13Z" fill="#1c3550"/>
<path d="M281.80 208.67 L283.50 211.73 L280.10 211.73Z" fill="#1c3550"/>
<path d="M294.60 214.41 L296.30 217.47 L292.90 217.47Z" fill="#1c3550"/>
<text x="217.80" y="222.30" font-size="6.8" text-anchor="middle" fill="#222" stroke="#222" stroke-width="0.18">*</text>
<text x="230.60" y="201.51" font-size="6.8" text-anchor="middle" fill="#222" stroke="#222" stroke-width="0.18">*</text>
<text x="243.40" y="187.89" font-size="6.8" text-anchor="middle" fill="#222" stroke="#222" stroke-width="0.18">*</text>
<line x1="349.00" y1="155.60" x2="349.00" y2="231.60" stroke="#2a2a2a" stroke-width="1.2"/>
<line x1="346.50" y1="231.10" x2="459.00" y2="231.10" stroke="#2a2a2a" stroke-width="1.3"/>
<line x1="346.00" y1="231.10" x2="349.00" y2="231.10" stroke="#2a2a2a" stroke-width="0.9"/>
<text x="342.70" y="233.50" font-size="6.8" text-anchor="end" fill="#3a3a3a" stroke="#3a3a3a" stroke-width="0.18">0</text>
<line x1="346.00" y1="194.35" x2="349.00" y2="194.35" stroke="#2a2a2a" stroke-width="0.9"/>
<text x="342.70" y="196.75" font-size="6.8" text-anchor="end" fill="#3a3a3a" stroke="#3a3a3a" stroke-width="0.18">50</text>
<line x1="346.00" y1="157.60" x2="349.00" y2="157.60" stroke="#2a2a2a" stroke-width="0.9"/>
<text x="342.70" y="160.00" font-size="6.8" text-anchor="end" fill="#3a3a3a" stroke="#3a3a3a" stroke-width="0.18">100</text>
<line x1="357.60" y1="231.10" x2="357.60" y2="234.10" stroke="#2a2a2a" stroke-width="0.9"/>
<text x="361.00" y="240.70" font-size="6.4" text-anchor="end" fill="#3a3a3a" stroke="#3a3a3a" stroke-width="0.18" transform="rotate(-45 361.0 240.7)">Unstimulated</text>
<line x1="370.90" y1="231.10" x2="370.90" y2="234.10" stroke="#2a2a2a" stroke-width="0.9"/>
<text x="374.30" y="240.70" font-size="6.4" text-anchor="end" fill="#3a3a3a" stroke="#3a3a3a" stroke-width="0.18" transform="rotate(-45 374.3 240.7)">Day1</text>
<line x1="384.20" y1="231.10" x2="384.20" y2="234.10" stroke="#2a2a2a" stroke-width="0.9"/>
<text x="387.60" y="240.70" font-size="6.4" text-anchor="end" fill="#3a3a3a" stroke="#3a3a3a" stroke-width="0.18" transform="rotate(-45 387.6 240.7)">Day2</text>
<line x1="397.50" y1="231.10" x2="397.50" y2="234.10" stroke="#2a2a2a" stroke-width="0.9"/>
<text x="400.90" y="240.70" font-size="6.4" text-anchor="end" fill="#3a3a3a" stroke="#3a3a3a" stroke-width="0.18" transform="rotate(-45 400.9 240.7)">Day3</text>
<line x1="410.80" y1="231.10" x2="410.80" y2="234.10" stroke="#2a2a2a" stroke-width="0.9"/>
<text x="414.20" y="240.70" font-size="6.4" text-anchor="end" fill="#3a3a3a" stroke="#3a3a3a" stroke-width="0.18" transform="rotate(-45 414.2 240.7)">Day4</text>
<line x1="424.10" y1="231.10" x2="424.10" y2="234.10" stroke="#2a2a2a" stroke-width="0.9"/>
<text x="427.50" y="240.70" font-size="6.4" text-anchor="end" fill="#3a3a3a" stroke="#3a3a3a" stroke-width="0.18" transform="rotate(-45 427.5 240.7)">Day7</text>
<line x1="437.40" y1="231.10" x2="437.40" y2="234.10" stroke="#2a2a2a" stroke-width="0.9"/>
<text x="440.80" y="240.70" font-size="6.4" text-anchor="end" fill="#3a3a3a" stroke="#3a3a3a" stroke-width="0.18" transform="rotate(-45 440.8 240.7)">Day8</text>
<line x1="450.70" y1="231.10" x2="450.70" y2="234.10" stroke="#2a2a2a" stroke-width="0.9"/>
<text x="454.10" y="240.70" font-size="6.4" text-anchor="end" fill="#3a3a3a" stroke="#3a3a3a" stroke-width="0.18" transform="rotate(-45 454.1 240.7)">Day10</text>
<text x="404.50" y="149.80" font-size="9.3" text-anchor="middle" fill="#2a2a2a" stroke="#2a2a2a" stroke-width="0.18" textLength="17.2" lengthAdjust="spacingAndGlyphs">CD8</text>
<text x="326.90" y="193.20" font-size="8.0" text-anchor="middle" fill="#3a3a3a" stroke="#3a3a3a" stroke-width="0.18" transform="rotate(-90 326.9 193.2)" textLength="20.9" lengthAdjust="spacingAndGlyphs">GITR %</text>
<path d="M357.60 231.10 L370.90 230.36 L384.20 221.54 L397.50 228.16 L410.80 219.34 L424.10 207.58 L437.40 222.28 L450.70 214.93" fill="none" stroke="#331a1c" stroke-width="1"/>
<path d="M357.60 230.36 L370.90 230.36 L384.20 211.25 L397.50 221.54 L410.80 221.54 L424.10 200.23 L437.40 211.25 L450.70 218.60" fill="none" stroke="#222" stroke-width="0.8" stroke-dasharray="1.4 1.4"/>
<line x1="384.20" y1="214.19" x2="384.20" y2="208.31" stroke="#555" stroke-width="0.6"/>
<line x1="383.00" y1="208.31" x2="385.40" y2="208.31" stroke="#555" stroke-width="0.6"/>
<line x1="383.00" y1="214.19" x2="385.40" y2="214.19" stroke="#555" stroke-width="0.6"/>
<line x1="397.50" y1="223.75" x2="397.50" y2="219.34" stroke="#555" stroke-width="0.6"/>
<line x1="396.30" y1="219.34" x2="398.70" y2="219.34" stroke="#555" stroke-width="0.6"/>
<line x1="396.30" y1="223.75" x2="398.70" y2="223.75" stroke="#555" stroke-width="0.6"/>
<line x1="410.80" y1="223.75" x2="410.80" y2="219.34" stroke="#555" stroke-width="0.6"/>
<line x1="409.60" y1="219.34" x2="412.00" y2="219.34" stroke="#555" stroke-width="0.6"/>
<line x1="409.60" y1="223.75" x2="412.00" y2="223.75" stroke="#555" stroke-width="0.6"/>
<line x1="424.10" y1="202.44" x2="424.10" y2="198.02" stroke="#555" stroke-width="0.6"/>
<line x1="422.90" y1="198.02" x2="425.30" y2="198.02" stroke="#555" stroke-width="0.6"/>
<line x1="422.90" y1="202.44" x2="425.30" y2="202.44" stroke="#555" stroke-width="0.6"/>
<line x1="437.40" y1="212.72" x2="437.40" y2="209.78" stroke="#555" stroke-width="0.6"/>
<line x1="436.20" y1="209.78" x2="438.60" y2="209.78" stroke="#555" stroke-width="0.6"/>
<line x1="436.20" y1="212.72" x2="438.60" y2="212.72" stroke="#555" stroke-width="0.6"/>
<line x1="450.70" y1="220.81" x2="450.70" y2="216.40" stroke="#555" stroke-width="0.6"/>
<line x1="449.50" y1="216.40" x2="451.90" y2="216.40" stroke="#555" stroke-width="0.6"/>
<line x1="449.50" y1="220.81" x2="451.90" y2="220.81" stroke="#555" stroke-width="0.6"/>
<line x1="384.20" y1="225.22" x2="384.20" y2="217.87" stroke="#a06070" stroke-width="0.6"/>
<line x1="383.00" y1="217.87" x2="385.40" y2="217.87" stroke="#a06070" stroke-width="0.6"/>
<line x1="383.00" y1="225.22" x2="385.40" y2="225.22" stroke="#a06070" stroke-width="0.6"/>
<line x1="424.10" y1="212.72" x2="424.10" y2="202.44" stroke="#a06070" stroke-width="0.6"/>
<line x1="422.90" y1="202.44" x2="425.30" y2="202.44" stroke="#a06070" stroke-width="0.6"/>
<line x1="422.90" y1="212.72" x2="425.30" y2="212.72" stroke="#a06070" stroke-width="0.6"/>
<line x1="450.70" y1="217.87" x2="450.70" y2="211.99" stroke="#a06070" stroke-width="0.6"/>
<line x1="449.50" y1="211.99" x2="451.90" y2="211.99" stroke="#a06070" stroke-width="0.6"/>
<line x1="449.50" y1="217.87" x2="451.90" y2="217.87" stroke="#a06070" stroke-width="0.6"/>
<circle cx="357.60" cy="231.10" r="1.55" fill="#6e1828" stroke="#9a3040" stroke-width="0.4"/>
<circle cx="370.90" cy="230.36" r="1.55" fill="#6e1828" stroke="#9a3040" stroke-width="0.4"/>
<circle cx="384.20" cy="221.54" r="1.55" fill="#6e1828" stroke="#9a3040" stroke-width="0.4"/>
<circle cx="397.50" cy="228.16" r="1.55" fill="#6e1828" stroke="#9a3040" stroke-width="0.4"/>
<circle cx="410.80" cy="219.34" r="1.55" fill="#6e1828" stroke="#9a3040" stroke-width="0.4"/>
<circle cx="424.10" cy="207.58" r="1.55" fill="#6e1828" stroke="#9a3040" stroke-width="0.4"/>
<circle cx="437.40" cy="222.28" r="1.55" fill="#6e1828" stroke="#9a3040" stroke-width="0.4"/>
<circle cx="450.70" cy="214.93" r="1.55" fill="#6e1828" stroke="#9a3040" stroke-width="0.4"/>
<path d="M357.60 228.53 L359.30 231.59 L355.90 231.59Z" fill="#1c3550"/>
<path d="M370.90 228.53 L372.60 231.59 L369.20 231.59Z" fill="#1c3550"/>
<path d="M384.20 209.42 L385.90 212.48 L382.50 212.48Z" fill="#1c3550"/>
<path d="M397.50 219.71 L399.20 222.77 L395.80 222.77Z" fill="#1c3550"/>
<path d="M410.80 219.71 L412.50 222.77 L409.10 222.77Z" fill="#1c3550"/>
<path d="M424.10 198.39 L425.80 201.45 L422.40 201.45Z" fill="#1c3550"/>
<path d="M437.40 209.42 L439.10 212.48 L435.70 212.48Z" fill="#1c3550"/>
<path d="M450.70 216.77 L452.40 219.83 L449.00 219.83Z" fill="#1c3550"/>
<path d="M353.40 164.60 L360.90 164.60" stroke="#222" stroke-width="0.8" stroke-dasharray="1.8 1.2"/>
<path d="M357.15 162.76 L358.85 165.82 L355.45 165.82Z" fill="#1c3550"/>
<line x1="353.40" y1="174.00" x2="360.90" y2="174.00" stroke="#331a1c" stroke-width="1"/>
<circle cx="357.15" cy="174.00" r="1.7" fill="#6e1828" stroke="#9a3040" stroke-width="0.4"/>
<text x="364.00" y="167.00" font-size="6.3" text-anchor="start" fill="#3a3a3a" stroke="#3a3a3a" stroke-width="0.18">HC</text>
<text x="364.00" y="176.40" font-size="6.3" text-anchor="start" fill="#3a3a3a" stroke="#3a3a3a" stroke-width="0.18" textLength="21.4" lengthAdjust="spacingAndGlyphs">Patients</text>
<text x="6.50" y="284.80" font-size="12" text-anchor="start" fill="#111" stroke="#111" stroke-width="0.18" font-weight="bold">C</text>
<text x="28.40" y="291.50" font-size="9" text-anchor="start" fill="#2a2a2a" stroke="#2a2a2a" stroke-width="0.18" textLength="243.4" lengthAdjust="spacingAndGlyphs">Gene set enrichment analysis comparing stimulation responses</text>
<text x="75.80" y="309.30" font-size="6.9" text-anchor="start" fill="#333" stroke="#333" stroke-width="0.18" textLength="76.2" lengthAdjust="spacingAndGlyphs">E2F TARGETS (gsSize:200)</text>
<line x1="155.60" y1="307.20" x2="158.60" y2="307.20" stroke="#222" stroke-width="0.9"/>
<text x="71.40" y="322.04" font-size="6.9" text-anchor="start" fill="#333" stroke="#333" stroke-width="0.18" textLength="80.6" lengthAdjust="spacingAndGlyphs">MYC TARGETS (gsSize:199)</text>
<line x1="155.60" y1="319.94" x2="158.60" y2="319.94" stroke="#222" stroke-width="0.9"/>
<text x="54.70" y="334.78" font-size="6.9" text-anchor="start" fill="#333" stroke="#333" stroke-width="0.18" textLength="97.3" lengthAdjust="spacingAndGlyphs">G2M CHECKPOINTS (gsSize:198)</text>
<line x1="155.60" y1="332.68" x2="158.60" y2="332.68" stroke="#222" stroke-width="0.9"/>
<text x="66.20" y="347.52" font-size="6.9" text-anchor="start" fill="#333" stroke="#333" stroke-width="0.18" textLength="85.8" lengthAdjust="spacingAndGlyphs">MYC TARGETS V2 (gsSize:58)</text>
<line x1="155.60" y1="345.42" x2="158.60" y2="345.42" stroke="#222" stroke-width="0.9"/>
<text x="51.80" y="360.26" font-size="6.9" text-anchor="start" fill="#333" stroke="#333" stroke-width="0.18" textLength="100.2" lengthAdjust="spacingAndGlyphs">MTORC1 SIGNALING (gsSize:198)</text>
<line x1="155.60" y1="358.16" x2="158.60" y2="358.16" stroke="#222" stroke-width="0.9"/>
<text x="55.30" y="373.00" font-size="6.9" text-anchor="start" fill="#333" stroke="#333" stroke-width="0.18" textLength="96.7" lengthAdjust="spacingAndGlyphs">SPERMATOGENESIS (gsSize:110)</text>
<line x1="155.60" y1="370.90" x2="158.60" y2="370.90" stroke="#222" stroke-width="0.9"/>
<text x="18.70" y="385.74" font-size="6.9" text-anchor="start" fill="#333" stroke="#333" stroke-width="0.18" textLength="133.3" lengthAdjust="spacingAndGlyphs">OXIDATIVE PHOSPHORYLATION (gsSize:200)</text>
<line x1="155.60" y1="383.64" x2="158.60" y2="383.64" stroke="#222" stroke-width="0.9"/>
<text x="78.40" y="398.48" font-size="6.9" text-anchor="start" fill="#333" stroke="#333" stroke-width="0.18" textLength="73.6" lengthAdjust="spacingAndGlyphs">DNA REPAIR (gsSize:148)</text>
<line x1="155.60" y1="396.38" x2="158.60" y2="396.38" stroke="#222" stroke-width="0.9"/>
<text x="15.80" y="411.22" font-size="6.9" text-anchor="start" fill="#333" stroke="#333" stroke-width="0.18" textLength="136.2" lengthAdjust="spacingAndGlyphs">UNFOLDED PROTEIN RESPONSE (gsSize:110)</text>
<line x1="155.60" y1="409.12" x2="158.60" y2="409.12" stroke="#222" stroke-width="0.9"/>
<text x="79.20" y="423.96" font-size="6.9" text-anchor="start" fill="#333" stroke="#333" stroke-width="0.18" textLength="72.8" lengthAdjust="spacingAndGlyphs">GLYCOLYSIS (gsSize:191)</text>
<line x1="155.60" y1="421.86" x2="158.60" y2="421.86" stroke="#222" stroke-width="0.9"/>
<text x="61.30" y="436.70" font-size="6.9" text-anchor="start" fill="#333" stroke="#333" stroke-width="0.18" textLength="90.7" lengthAdjust="spacingAndGlyphs">MITOTIC SPINDLE (gsSize:198)</text>
<line x1="155.60" y1="434.60" x2="158.60" y2="434.60" stroke="#222" stroke-width="0.9"/>
<text x="87.30" y="449.44" font-size="6.9" text-anchor="start" fill="#333" stroke="#333" stroke-width="0.18" textLength="64.7" lengthAdjust="spacingAndGlyphs">HYPOXIA (gsSize:188)</text>
<line x1="155.60" y1="447.34" x2="158.60" y2="447.34" stroke="#222" stroke-width="0.9"/>
<rect x="158.60" y="299.80" width="113.70" height="154.80" fill="none" stroke="#222" stroke-width="1.1"/>
<line x1="189.60" y1="454.60" x2="189.60" y2="457.60" stroke="#222" stroke-width="0.9"/>
<line x1="241.40" y1="454.60" x2="241.40" y2="457.60" stroke="#222" stroke-width="0.9"/>
<text x="189.60" y="466.50" font-size="7" text-anchor="middle" fill="#333" stroke="#333" stroke-width="0.18">WT</text>
<text x="241.40" y="466.50" font-size="7" text-anchor="middle" fill="#333" stroke="#333" stroke-width="0.18">NFATc1</text>
<circle cx="189.6" cy="307.20" r="2.10" fill="#a8283c" stroke="#6a1a26" stroke-width="0.6"/>
<circle cx="189.6" cy="319.94" r="2.00" fill="#b3404a" stroke="#7a2a30" stroke-width="0.6"/>
<circle cx="189.6" cy="332.68" r="1.90" fill="#ad5656" stroke="#7a3a3a" stroke-width="0.6"/>
<circle cx="189.6" cy="345.42" r="1.90" fill="#c49a3c" stroke="#7a6430" stroke-width="0.6"/>
<circle cx="189.6" cy="358.16" r="1.60" fill="#ece6c0" stroke="#8a8050" stroke-width="0.6"/>
<circle cx="189.6" cy="370.90" r="1.35" fill="#8e8e84" stroke="#6e6e66" stroke-width="0.6"/>
<circle cx="189.6" cy="396.38" r="1.40" fill="#f0ecc8" stroke="#8a8a50" stroke-width="0.6"/>
<circle cx="189.6" cy="409.12" r="1.40" fill="#a0a078" stroke="#7a7a5a" stroke-width="0.6"/>
<circle cx="189.6" cy="421.86" r="0.90" fill="#707070" stroke="#606060" stroke-width="0.6"/>
<circle cx="189.6" cy="434.60" r="0.90" fill="#707070" stroke="#606060" stroke-width="0.6"/>
<circle cx="189.6" cy="447.34" r="0.55" fill="#333" stroke="#333" stroke-width="0.6"/>
<circle cx="241.4" cy="307.20" r="2.05" fill="#a01c3a" stroke="#641222" stroke-width="0.6"/>
<circle cx="241.4" cy="319.94" r="2.20" fill="#b42e40" stroke="#782028" stroke-width="0.6"/>
<circle cx="241.4" cy="332.68" r="1.70" fill="#a84048" stroke="#702a30" stroke-width="0.6"/>
<circle cx="241.4" cy="345.42" r="2.50" fill="#cc7c42" stroke="#8a5030" stroke-width="0.6"/>
<circle cx="241.4" cy="358.16" r="1.50" fill="#f2eeb0" stroke="#b0a838" stroke-width="0.6"/>
<circle cx="241.4" cy="370.90" r="0.90" fill="#666" stroke="#555" stroke-width="0.6"/>
<circle cx="241.4" cy="383.64" r="1.90" fill="#f4f2a8" stroke="#b6bc26" stroke-width="0.6"/>
<circle cx="241.4" cy="396.38" r="1.50" fill="#f2eeb8" stroke="#a89c34" stroke-width="0.6"/>
<circle cx="241.4" cy="409.12" r="1.50" fill="#e8e8b8" stroke="#9a9a4a" stroke-width="0.6"/>
<circle cx="241.4" cy="421.86" r="0.90" fill="#707070" stroke="#606060" stroke-width="0.6"/>
<text x="167.40" y="481.40" font-size="7.6" text-anchor="start" fill="#555" stroke="#555" stroke-width="0.18" textLength="17" lengthAdjust="spacingAndGlyphs">GSEA</text>
<text x="167.40" y="489.00" font-size="7.6" text-anchor="start" fill="#555" stroke="#555" stroke-width="0.18" textLength="37.2" lengthAdjust="spacingAndGlyphs">(p.adj &lt; 0.05)</text>
<text x="214.30" y="481.20" font-size="7.6" text-anchor="start" fill="#555" stroke="#555" stroke-width="0.18" textLength="29.3" lengthAdjust="spacingAndGlyphs">GeneRatio</text>
<circle cx="216.3" cy="488.00" r="0.8" fill="#555" stroke="#555" stroke-width="0.6"/>
<text x="219.20" y="490.50" font-size="7.4" text-anchor="start" fill="#555" stroke="#555" stroke-width="0.18">0.3</text>
<circle cx="216.3" cy="494.23" r="1.1" fill="none" stroke="#555" stroke-width="0.6"/>
<text x="219.20" y="496.73" font-size="7.4" text-anchor="start" fill="#555" stroke="#555" stroke-width="0.18">0.4</text>
<circle cx="216.3" cy="500.46" r="1.4" fill="none" stroke="#555" stroke-width="0.6"/>
<text x="219.20" y="502.96" font-size="7.4" text-anchor="start" fill="#555" stroke="#555" stroke-width="0.18">0.5</text>
<circle cx="216.3" cy="506.69" r="1.6" fill="none" stroke="#555" stroke-width="0.6"/>
<text x="219.20" y="509.19" font-size="7.4" text-anchor="start" fill="#555" stroke="#555" stroke-width="0.18">0.6</text>
<circle cx="216.3" cy="512.92" r="1.8" fill="none" stroke="#555" stroke-width="0.6"/>
<text x="219.20" y="515.42" font-size="7.4" text-anchor="start" fill="#555" stroke="#555" stroke-width="0.18">0.7</text>
<text x="251.70" y="481.20" font-size="7.6" text-anchor="start" fill="#555" stroke="#555" stroke-width="0.18" textLength="11.2" lengthAdjust="spacingAndGlyphs">NES</text>
<defs><linearGradient id="nes" x1="0" y1="0" x2="0" y2="1"><stop offset="0" stop-color="#e0402a"/><stop offset="0.45" stop-color="#f08a2a"/><stop offset="1" stop-color="#f8e040"/></linearGradient><linearGradient id="zs" x1="0" y1="0" x2="0" y2="1"><stop offset="0" stop-color="#cd2d30"/><stop offset="0.25" stop-color="#e28a8a"/><stop offset="0.5" stop-color="#fbfbfb"/><stop offset="0.75" stop-color="#6a76bc"/><stop offset="1" stop-color="#22328e"/></linearGradient></defs>
<rect x="251.60" y="486.00" width="4.40" height="25.80" fill="url(#nes)"/>
<text x="258.60" y="489.80" font-size="7.4" text-anchor="start" fill="#555" stroke="#555" stroke-width="0.18" textLength="8.9" lengthAdjust="spacingAndGlyphs">2.8</text>
<text x="258.60" y="496.07" font-size="7.4" text-anchor="start" fill="#555" stroke="#555" stroke-width="0.18" textLength="8.9" lengthAdjust="spacingAndGlyphs">2.4</text>
<text x="258.60" y="502.34" font-size="7.4" text-anchor="start" fill="#555" stroke="#555" stroke-width="0.18" textLength="8.9" lengthAdjust="spacingAndGlyphs">2.0</text>
<text x="258.60" y="508.61" font-size="7.4" text-anchor="start" fill="#555" stroke="#555" stroke-width="0.18" textLength="8.9" lengthAdjust="spacingAndGlyphs">1.6</text>
<text x="288.30" y="284.80" font-size="12" text-anchor="start" fill="#111" stroke="#111" stroke-width="0.18" font-weight="bold">E</text>
<rect x="320.00" y="284.3" width="13.25" height="6.2" fill="#9aa8bc" stroke="#6a6a6a" stroke-width="0.5"/>
<rect x="333.25" y="284.3" width="13.25" height="6.2" fill="#9aa8bc" stroke="#6a6a6a" stroke-width="0.5"/>
<rect x="346.50" y="284.3" width="13.10" height="6.2" fill="#9aa8bc" stroke="#6a6a6a" stroke-width="0.5"/>
<rect x="359.60" y="284.3" width="13.40" height="6.2" fill="#9aa8bc" stroke="#6a6a6a" stroke-width="0.5"/>
<rect x="374.5" y="284.3" width="25.1" height="6.2" fill="#d8a898" stroke="#6a6a6a" stroke-width="0.5"/>
<text x="403.40" y="290.60" font-size="6.9" text-anchor="start" fill="#3a3a3a" stroke="#3a3a3a" stroke-width="0.18" textLength="28.9" lengthAdjust="spacingAndGlyphs">Genotype</text>
<rect x="320.00" y="292.00" width="13.25" height="7.36" fill="#5663b2" stroke="#6a6a6a" stroke-width="0.6"/>
<rect x="333.25" y="292.00" width="13.25" height="7.36" fill="#cbcee7" stroke="#6a6a6a" stroke-width="0.6"/>
<rect x="346.50" y="292.00" width="13.10" height="7.36" fill="#e89090" stroke="#6a6a6a" stroke-width="0.6"/>
<rect x="359.60" y="292.00" width="13.40" height="7.36" fill="#de6666" stroke="#6a6a6a" stroke-width="0.6"/>
<rect x="374.50" y="292.00" width="12.50" height="7.36" fill="#767fc2" stroke="#6a6a6a" stroke-width="0.6"/>
<rect x="387.00" y="292.00" width="12.60" height="7.36" fill="#9ea5d4" stroke="#6a6a6a" stroke-width="0.6"/>
<rect x="312.3" y="292.00" width="7" height="7.36" fill="#7a68b8" stroke="#6a6a6a" stroke-width="0.4"/>
<text x="403.40" y="298.08" font-size="6.7" text-anchor="start" fill="#333" stroke="#333" stroke-width="0.18" font-style="italic" textLength="16.33" lengthAdjust="spacingAndGlyphs">PGM1</text>
<rect x="320.00" y="299.36" width="13.25" height="7.36" fill="#bbc0e0" stroke="#6a6a6a" stroke-width="0.6"/>
<rect x="333.25" y="299.36" width="13.25" height="7.36" fill="#bbc0e0" stroke="#6a6a6a" stroke-width="0.6"/>
<rect x="346.50" y="299.36" width="13.10" height="7.36" fill="#eeb4b4" stroke="#6a6a6a" stroke-width="0.6"/>
<rect x="359.60" y="299.36" width="13.40" height="7.36" fill="#d95252" stroke="#6a6a6a" stroke-width="0.6"/>
<rect x="374.50" y="299.36" width="12.50" height="7.36" fill="#32429b" stroke="#6a6a6a" stroke-width="0.6"/>
<rect x="387.00" y="299.36" width="12.60" height="7.36" fill="#bbc0e0" stroke="#6a6a6a" stroke-width="0.6"/>
<rect x="312.3" y="299.36" width="7" height="7.36" fill="#d0a49a" stroke="#6a6a6a" stroke-width="0.4"/>
<text x="403.40" y="305.44" font-size="6.7" text-anchor="start" fill="#333" stroke="#333" stroke-width="0.18" font-style="italic" textLength="16.33" lengthAdjust="spacingAndGlyphs">ISG20</text>
<rect x="320.00" y="306.72" width="13.25" height="7.36" fill="#5663b2" stroke="#6a6a6a" stroke-width="0.6"/>
<rect x="333.25" y="306.72" width="13.25" height="7.36" fill="#ea9c9c" stroke="#6a6a6a" stroke-width="0.6"/>
<rect x="346.50" y="306.72" width="13.10" height="7.36" fill="#6872bc" stroke="#6a6a6a" stroke-width="0.6"/>
<rect x="359.60" y="306.72" width="13.40" height="7.36" fill="#f9f9fa" stroke="#6a6a6a" stroke-width="0.6"/>
<rect x="374.50" y="306.72" width="12.50" height="7.36" fill="#de6666" stroke="#6a6a6a" stroke-width="0.6"/>
<rect x="387.00" y="306.72" width="12.60" height="7.36" fill="#acb2da" stroke="#6a6a6a" stroke-width="0.6"/>
<rect x="312.3" y="306.72" width="7" height="7.36" fill="#7a68b8" stroke="#6a6a6a" stroke-width="0.4"/>
<text x="403.40" y="312.80" font-size="6.7" text-anchor="start" fill="#333" stroke="#333" stroke-width="0.18" font-style="italic" textLength="12.49" lengthAdjust="spacingAndGlyphs">GCK</text>
<rect x="320.00" y="314.09" width="13.25" height="7.36" fill="#bbc0e0" stroke="#6a6a6a" stroke-width="0.6"/>
<rect x="333.25" y="314.09" width="13.25" height="7.36" fill="#ea9c9c" stroke="#6a6a6a" stroke-width="0.6"/>
<rect x="346.50" y="314.09" width="13.10" height="7.36" fill="#2c3c97" stroke="#6a6a6a" stroke-width="0.6"/>
<rect x="359.60" y="314.09" width="13.40" height="7.36" fill="#9ea5d4" stroke="#6a6a6a" stroke-width="0.6"/>
<rect x="374.50" y="314.09" width="12.50" height="7.36" fill="#f5e2e3" stroke="#6a6a6a" stroke-width="0.6"/>
<rect x="387.00" y="314.09" width="12.60" height="7.36" fill="#e37a7a" stroke="#6a6a6a" stroke-width="0.6"/>
<rect x="312.3" y="314.09" width="7" height="7.36" fill="#b4b4bc" stroke="#6a6a6a" stroke-width="0.4"/>
<text x="403.40" y="320.17" font-size="6.7" text-anchor="start" fill="#333" stroke="#333" stroke-width="0.18" font-style="italic" textLength="15.37" lengthAdjust="spacingAndGlyphs">GALE</text>
<rect x="320.00" y="321.45" width="13.25" height="7.36" fill="#e17070" stroke="#6a6a6a" stroke-width="0.6"/>
<rect x="333.25" y="321.45" width="13.25" height="7.36" fill="#f5e2e3" stroke="#6a6a6a" stroke-width="0.6"/>
<rect x="346.50" y="321.45" width="13.10" height="7.36" fill="#5f6ab7" stroke="#6a6a6a" stroke-width="0.6"/>
<rect x="359.60" y="321.45" width="13.40" height="7.36" fill="#5663b2" stroke="#6a6a6a" stroke-width="0.6"/>
<rect x="374.50" y="321.45" width="12.50" height="7.36" fill="#f0c0c0" stroke="#6a6a6a" stroke-width="0.6"/>
<rect x="387.00" y="321.45" width="12.60" height="7.36" fill="#f9f9fa" stroke="#6a6a6a" stroke-width="0.6"/>
<rect x="312.3" y="321.45" width="7" height="7.36" fill="#7a68b8" stroke="#6a6a6a" stroke-width="0.4"/>
<text x="403.40" y="327.53" font-size="6.7" text-anchor="start" fill="#333" stroke="#333" stroke-width="0.18" font-style="italic" textLength="18.25" lengthAdjust="spacingAndGlyphs">FKBP4</text>
<rect x="320.00" y="328.81" width="13.25" height="7.36" fill="#d95252" stroke="#6a6a6a" stroke-width="0.6"/>
<rect x="333.25" y="328.81" width="13.25" height="7.36" fill="#f9f9fa" stroke="#6a6a6a" stroke-width="0.6"/>
<rect x="346.50" y="328.81" width="13.10" height="7.36" fill="#838cc8" stroke="#6a6a6a" stroke-width="0.6"/>
<rect x="359.60" y="328.81" width="13.40" height="7.36" fill="#5f6ab7" stroke="#6a6a6a" stroke-width="0.6"/>
<rect x="374.50" y="328.81" width="12.50" height="7.36" fill="#acb2da" stroke="#6a6a6a" stroke-width="0.6"/>
<rect x="387.00" y="328.81" width="12.60" height="7.36" fill="#f2cbcc" stroke="#6a6a6a" stroke-width="0.6"/>
<rect x="312.3" y="328.81" width="7" height="7.36" fill="#96a6ba" stroke="#6a6a6a" stroke-width="0.4"/>
<text x="403.40" y="334.89" font-size="6.7" text-anchor="start" fill="#333" stroke="#333" stroke-width="0.18" font-style="italic" textLength="15.69" lengthAdjust="spacingAndGlyphs">GOT1</text>
<rect x="320.00" y="336.17" width="13.25" height="7.36" fill="#f2cbcc" stroke="#6a6a6a" stroke-width="0.6"/>
<rect x="333.25" y="336.17" width="13.25" height="7.36" fill="#ea9c9c" stroke="#6a6a6a" stroke-width="0.6"/>
<rect x="346.50" y="336.17" width="13.10" height="7.36" fill="#acb2da" stroke="#6a6a6a" stroke-width="0.6"/>
<rect x="359.60" y="336.17" width="13.40" height="7.36" fill="#273792" stroke="#6a6a6a" stroke-width="0.6"/>
<rect x="374.50" y="336.17" width="12.50" height="7.36" fill="#f2cbcc" stroke="#6a6a6a" stroke-width="0.6"/>
<rect x="387.00" y="336.17" width="12.60" height="7.36" fill="#f5e2e3" stroke="#6a6a6a" stroke-width="0.6"/>
<rect x="312.3" y="336.17" width="7" height="7.36" fill="#7a68b8" stroke="#6a6a6a" stroke-width="0.4"/>
<text x="403.40" y="342.25" font-size="6.7" text-anchor="start" fill="#333" stroke="#333" stroke-width="0.18" font-style="italic" textLength="18.9" lengthAdjust="spacingAndGlyphs">PRPS1</text>
<rect x="320.00" y="343.53" width="13.25" height="7.36" fill="#f0c0c0" stroke="#6a6a6a" stroke-width="0.6"/>
<rect x="333.25" y="343.53" width="13.25" height="7.36" fill="#e17070" stroke="#6a6a6a" stroke-width="0.6"/>
<rect x="346.50" y="343.53" width="13.10" height="7.36" fill="#9198ce" stroke="#6a6a6a" stroke-width="0.6"/>
<rect x="359.60" y="343.53" width="13.40" height="7.36" fill="#f9f9fa" stroke="#6a6a6a" stroke-width="0.6"/>
<rect x="374.50" y="343.53" width="12.50" height="7.36" fill="#5f6ab7" stroke="#6a6a6a" stroke-width="0.6"/>
<rect x="387.00" y="343.53" width="12.60" height="7.36" fill="#838cc8" stroke="#6a6a6a" stroke-width="0.6"/>
<rect x="312.3" y="343.53" width="7" height="7.36" fill="#7a68b8" stroke="#6a6a6a" stroke-width="0.4"/>
<text x="403.40" y="349.61" font-size="6.7" text-anchor="start" fill="#333" stroke="#333" stroke-width="0.18" font-style="italic" textLength="15.05" lengthAdjust="spacingAndGlyphs">PFKP</text>
<rect x="320.00" y="350.90" width="13.25" height="7.36" fill="#e89090" stroke="#6a6a6a" stroke-width="0.6"/>
<rect x="333.25" y="350.90" width="13.25" height="7.36" fill="#e68484" stroke="#6a6a6a" stroke-width="0.6"/>
<rect x="346.50" y="350.90" width="13.10" height="7.36" fill="#838cc8" stroke="#6a6a6a" stroke-width="0.6"/>
<rect x="359.60" y="350.90" width="13.40" height="7.36" fill="#bbc0e0" stroke="#6a6a6a" stroke-width="0.6"/>
<rect x="374.50" y="350.90" width="12.50" height="7.36" fill="#5f6ab7" stroke="#6a6a6a" stroke-width="0.6"/>
<rect x="387.00" y="350.90" width="12.60" height="7.36" fill="#cbcee7" stroke="#6a6a6a" stroke-width="0.6"/>
<rect x="312.3" y="350.90" width="7" height="7.36" fill="#96a6ba" stroke="#6a6a6a" stroke-width="0.4"/>
<text x="403.40" y="356.98" font-size="6.7" text-anchor="start" fill="#333" stroke="#333" stroke-width="0.18" font-style="italic" textLength="11.21" lengthAdjust="spacingAndGlyphs">HK1</text>
<rect x="320.00" y="358.26" width="13.25" height="7.36" fill="#e68484" stroke="#6a6a6a" stroke-width="0.6"/>
<rect x="333.25" y="358.26" width="13.25" height="7.36" fill="#e37a7a" stroke="#6a6a6a" stroke-width="0.6"/>
<rect x="346.50" y="358.26" width="13.10" height="7.36" fill="#5f6ab7" stroke="#6a6a6a" stroke-width="0.6"/>
<rect x="359.60" y="358.26" width="13.40" height="7.36" fill="#acb2da" stroke="#6a6a6a" stroke-width="0.6"/>
<rect x="374.50" y="358.26" width="12.50" height="7.36" fill="#5f6ab7" stroke="#6a6a6a" stroke-width="0.6"/>
<rect x="387.00" y="358.26" width="12.60" height="7.36" fill="#dadded" stroke="#6a6a6a" stroke-width="0.6"/>
<rect x="312.3" y="358.26" width="7" height="7.36" fill="#7a68b8" stroke="#6a6a6a" stroke-width="0.4"/>
<text x="403.40" y="364.34" font-size="6.7" text-anchor="start" fill="#333" stroke="#333" stroke-width="0.18" font-style="italic" textLength="21.46" lengthAdjust="spacingAndGlyphs">SLC2A3</text>
<rect x="320.00" y="365.62" width="13.25" height="7.36" fill="#f4d7d7" stroke="#6a6a6a" stroke-width="0.6"/>
<rect x="333.25" y="365.62" width="13.25" height="7.36" fill="#de6666" stroke="#6a6a6a" stroke-width="0.6"/>
<rect x="346.50" y="365.62" width="13.10" height="7.36" fill="#6872bc" stroke="#6a6a6a" stroke-width="0.6"/>
<rect x="359.60" y="365.62" width="13.40" height="7.36" fill="#838cc8" stroke="#6a6a6a" stroke-width="0.6"/>
<rect x="374.50" y="365.62" width="12.50" height="7.36" fill="#6872bc" stroke="#6a6a6a" stroke-width="0.6"/>
<rect x="387.00" y="365.62" width="12.60" height="7.36" fill="#f4d7d7" stroke="#6a6a6a" stroke-width="0.6"/>
<rect x="312.3" y="365.62" width="7" height="7.36" fill="#96a6ba" stroke="#6a6a6a" stroke-width="0.4"/>
<text x="403.40" y="371.70" font-size="6.7" text-anchor="start" fill="#333" stroke="#333" stroke-width="0.18" font-style="italic" textLength="11.84" lengthAdjust="spacingAndGlyphs">CTH</text>
<rect x="320.00" y="372.98" width="13.25" height="7.36" fill="#e89090" stroke="#6a6a6a" stroke-width="0.6"/>
<rect x="333.25" y="372.98" width="13.25" height="7.36" fill="#e68484" stroke="#6a6a6a" stroke-width="0.6"/>
<rect x="346.50" y="372.98" width="13.10" height="7.36" fill="#acb2da" stroke="#6a6a6a" stroke-width="0.6"/>
<rect x="359.60" y="372.98" width="13.40" height="7.36" fill="#5663b2" stroke="#6a6a6a" stroke-width="0.6"/>
<rect x="374.50" y="372.98" width="12.50" height="7.36" fill="#5f6ab7" stroke="#6a6a6a" stroke-width="0.6"/>
<rect x="387.00" y="372.98" width="12.60" height="7.36" fill="#f4d7d7" stroke="#6a6a6a" stroke-width="0.6"/>
<rect x="312.3" y="372.98" width="7" height="7.36" fill="#7a68b8" stroke="#6a6a6a" stroke-width="0.4"/>
<text x="403.40" y="379.06" font-size="6.7" text-anchor="start" fill="#333" stroke="#333" stroke-width="0.18" font-style="italic" textLength="20.17" lengthAdjust="spacingAndGlyphs">PGAM1</text>
<rect x="320.00" y="380.34" width="13.25" height="7.36" fill="#eca8a8" stroke="#6a6a6a" stroke-width="0.6"/>
<rect x="333.25" y="380.34" width="13.25" height="7.36" fill="#eca8a8" stroke="#6a6a6a" stroke-width="0.6"/>
<rect x="346.50" y="380.34" width="13.10" height="7.36" fill="#f4d7d7" stroke="#6a6a6a" stroke-width="0.6"/>
<rect x="359.60" y="380.34" width="13.40" height="7.36" fill="#f9f9fa" stroke="#6a6a6a" stroke-width="0.6"/>
<rect x="374.50" y="380.34" width="12.50" height="7.36" fill="#22328e" stroke="#6a6a6a" stroke-width="0.6"/>
<rect x="387.00" y="380.34" width="12.60" height="7.36" fill="#dadded" stroke="#6a6a6a" stroke-width="0.6"/>
<rect x="312.3" y="380.34" width="7" height="7.36" fill="#7a68b8" stroke="#6a6a6a" stroke-width="0.4"/>
<text x="403.40" y="386.42" font-size="6.7" text-anchor="start" fill="#333" stroke="#333" stroke-width="0.18" font-style="italic" textLength="12.17" lengthAdjust="spacingAndGlyphs">TPI1</text>
<rect x="320.00" y="387.71" width="13.25" height="7.36" fill="#eca8a8" stroke="#6a6a6a" stroke-width="0.6"/>
<rect x="333.25" y="387.71" width="13.25" height="7.36" fill="#ea9c9c" stroke="#6a6a6a" stroke-width="0.6"/>
<rect x="346.50" y="387.71" width="13.10" height="7.36" fill="#f9f9fa" stroke="#6a6a6a" stroke-width="0.6"/>
<rect x="359.60" y="387.71" width="13.40" height="7.36" fill="#f5e2e3" stroke="#6a6a6a" stroke-width="0.6"/>
<rect x="374.50" y="387.71" width="12.50" height="7.36" fill="#22328e" stroke="#6a6a6a" stroke-width="0.6"/>
<rect x="387.00" y="387.71" width="12.60" height="7.36" fill="#cbcee7" stroke="#6a6a6a" stroke-width="0.6"/>
<rect x="312.3" y="387.71" width="7" height="7.36" fill="#7a68b8" stroke="#6a6a6a" stroke-width="0.4"/>
<text x="403.40" y="393.79" font-size="6.7" text-anchor="start" fill="#333" stroke="#333" stroke-width="0.18" font-style="italic" textLength="9.93" lengthAdjust="spacingAndGlyphs">GPI</text>
<rect x="320.00" y="395.07" width="13.25" height="7.36" fill="#ea9c9c" stroke="#6a6a6a" stroke-width="0.6"/>
<rect x="333.25" y="395.07" width="13.25" height="7.36" fill="#eeb4b4" stroke="#6a6a6a" stroke-width="0.6"/>
<rect x="346.50" y="395.07" width="13.10" height="7.36" fill="#f5e2e3" stroke="#6a6a6a" stroke-width="0.6"/>
<rect x="359.60" y="395.07" width="13.40" height="7.36" fill="#f7eeee" stroke="#6a6a6a" stroke-width="0.6"/>
<rect x="374.50" y="395.07" width="12.50" height="7.36" fill="#22328e" stroke="#6a6a6a" stroke-width="0.6"/>
<rect x="387.00" y="395.07" width="12.60" height="7.36" fill="#cbcee7" stroke="#6a6a6a" stroke-width="0.6"/>
<rect x="312.3" y="395.07" width="7" height="7.36" fill="#96a6ba" stroke="#6a6a6a" stroke-width="0.4"/>
<text x="403.40" y="401.15" font-size="6.7" text-anchor="start" fill="#333" stroke="#333" stroke-width="0.18" font-style="italic" textLength="15.69" lengthAdjust="spacingAndGlyphs">ENO1</text>
<rect x="320.00" y="402.43" width="13.25" height="7.36" fill="#eca8a8" stroke="#6a6a6a" stroke-width="0.6"/>
<rect x="333.25" y="402.43" width="13.25" height="7.36" fill="#f0c0c0" stroke="#6a6a6a" stroke-width="0.6"/>
<rect x="346.50" y="402.43" width="13.10" height="7.36" fill="#f4d7d7" stroke="#6a6a6a" stroke-width="0.6"/>
<rect x="359.60" y="402.43" width="13.40" height="7.36" fill="#eaebf4" stroke="#6a6a6a" stroke-width="0.6"/>
<rect x="374.50" y="402.43" width="12.50" height="7.36" fill="#22328e" stroke="#6a6a6a" stroke-width="0.6"/>
<rect x="387.00" y="402.43" width="12.60" height="7.36" fill="#cbcee7" stroke="#6a6a6a" stroke-width="0.6"/>
<rect x="312.3" y="402.43" width="7" height="7.36" fill="#7a68b8" stroke="#6a6a6a" stroke-width="0.4"/>
<text x="403.40" y="408.51" font-size="6.7" text-anchor="start" fill="#333" stroke="#333" stroke-width="0.18" font-style="italic" textLength="19.53" lengthAdjust="spacingAndGlyphs">ALDOA</text>
<rect x="320.00" y="409.79" width="13.25" height="7.36" fill="#eca8a8" stroke="#6a6a6a" stroke-width="0.6"/>
<rect x="333.25" y="409.79" width="13.25" height="7.36" fill="#e89090" stroke="#6a6a6a" stroke-width="0.6"/>
<rect x="346.50" y="409.79" width="13.10" height="7.36" fill="#f5e2e3" stroke="#6a6a6a" stroke-width="0.6"/>
<rect x="359.60" y="409.79" width="13.40" height="7.36" fill="#acb2da" stroke="#6a6a6a" stroke-width="0.6"/>
<rect x="374.50" y="409.79" width="12.50" height="7.36" fill="#22328e" stroke="#6a6a6a" stroke-width="0.6"/>
<rect x="387.00" y="409.79" width="12.60" height="7.36" fill="#dadded" stroke="#6a6a6a" stroke-width="0.6"/>
<rect x="312.3" y="409.79" width="7" height="7.36" fill="#7a68b8" stroke="#6a6a6a" stroke-width="0.4"/>
<text x="403.40" y="415.87" font-size="6.7" text-anchor="start" fill="#333" stroke="#333" stroke-width="0.18" font-style="italic" textLength="12.49" lengthAdjust="spacingAndGlyphs">PKM</text>
<rect x="320.00" y="417.15" width="13.25" height="7.36" fill="#e89090" stroke="#6a6a6a" stroke-width="0.6"/>
<rect x="333.25" y="417.15" width="13.25" height="7.36" fill="#ea9c9c" stroke="#6a6a6a" stroke-width="0.6"/>
<rect x="346.50" y="417.15" width="13.10" height="7.36" fill="#f9f9fa" stroke="#6a6a6a" stroke-width="0.6"/>
<rect x="359.60" y="417.15" width="13.40" height="7.36" fill="#acb2da" stroke="#6a6a6a" stroke-width="0.6"/>
<rect x="374.50" y="417.15" width="12.50" height="7.36" fill="#2c3c97" stroke="#6a6a6a" stroke-width="0.6"/>
<rect x="387.00" y="417.15" width="12.60" height="7.36" fill="#dadded" stroke="#6a6a6a" stroke-width="0.6"/>
<rect x="312.3" y="417.15" width="7" height="7.36" fill="#7a68b8" stroke="#6a6a6a" stroke-width="0.4"/>
<text x="403.40" y="423.23" font-size="6.7" text-anchor="start" fill="#333" stroke="#333" stroke-width="0.18" font-style="italic" textLength="15.37" lengthAdjust="spacingAndGlyphs">LDHA</text>
<rect x="320.00" y="424.52" width="13.25" height="7.36" fill="#eca8a8" stroke="#6a6a6a" stroke-width="0.6"/>
<rect x="333.25" y="424.52" width="13.25" height="7.36" fill="#eeb4b4" stroke="#6a6a6a" stroke-width="0.6"/>
<rect x="346.50" y="424.52" width="13.10" height="7.36" fill="#f9f9fa" stroke="#6a6a6a" stroke-width="0.6"/>
<rect x="359.60" y="424.52" width="13.40" height="7.36" fill="#f2cbcc" stroke="#6a6a6a" stroke-width="0.6"/>
<rect x="374.50" y="424.52" width="12.50" height="7.36" fill="#273792" stroke="#6a6a6a" stroke-width="0.6"/>
<rect x="387.00" y="424.52" width="12.60" height="7.36" fill="#bbc0e0" stroke="#6a6a6a" stroke-width="0.6"/>
<rect x="312.3" y="424.52" width="7" height="7.36" fill="#96a6ba" stroke="#6a6a6a" stroke-width="0.4"/>
<text x="403.40" y="430.60" font-size="6.7" text-anchor="start" fill="#333" stroke="#333" stroke-width="0.18" font-style="italic" textLength="15.37" lengthAdjust="spacingAndGlyphs">PGK1</text>
<rect x="320.00" y="431.88" width="13.25" height="7.36" fill="#eeb4b4" stroke="#6a6a6a" stroke-width="0.6"/>
<rect x="333.25" y="431.88" width="13.25" height="7.36" fill="#f2cbcc" stroke="#6a6a6a" stroke-width="0.6"/>
<rect x="346.50" y="431.88" width="13.10" height="7.36" fill="#f5e2e3" stroke="#6a6a6a" stroke-width="0.6"/>
<rect x="359.60" y="431.88" width="13.40" height="7.36" fill="#eeb4b4" stroke="#6a6a6a" stroke-width="0.6"/>
<rect x="374.50" y="431.88" width="12.50" height="7.36" fill="#273792" stroke="#6a6a6a" stroke-width="0.6"/>
<rect x="387.00" y="431.88" width="12.60" height="7.36" fill="#bbc0e0" stroke="#6a6a6a" stroke-width="0.6"/>
<rect x="312.3" y="431.88" width="7" height="7.36" fill="#7a68b8" stroke="#6a6a6a" stroke-width="0.4"/>
<text x="403.40" y="437.96" font-size="6.7" text-anchor="start" fill="#333" stroke="#333" stroke-width="0.18" font-style="italic" textLength="19.85" lengthAdjust="spacingAndGlyphs">ALDOC</text>
<rect x="320.00" y="439.24" width="13.25" height="7.36" fill="#e89090" stroke="#6a6a6a" stroke-width="0.6"/>
<rect x="333.25" y="439.24" width="13.25" height="7.36" fill="#f9f9fa" stroke="#6a6a6a" stroke-width="0.6"/>
<rect x="346.50" y="439.24" width="13.10" height="7.36" fill="#eaebf4" stroke="#6a6a6a" stroke-width="0.6"/>
<rect x="359.60" y="439.24" width="13.40" height="7.36" fill="#eeb4b4" stroke="#6a6a6a" stroke-width="0.6"/>
<rect x="374.50" y="439.24" width="12.50" height="7.36" fill="#2c3c97" stroke="#6a6a6a" stroke-width="0.6"/>
<rect x="387.00" y="439.24" width="12.60" height="7.36" fill="#bbc0e0" stroke="#6a6a6a" stroke-width="0.6"/>
<rect x="312.3" y="439.24" width="7" height="7.36" fill="#7a68b8" stroke="#6a6a6a" stroke-width="0.4"/>
<text x="403.40" y="445.32" font-size="6.7" text-anchor="start" fill="#333" stroke="#333" stroke-width="0.18" font-style="italic" textLength="13.13" lengthAdjust="spacingAndGlyphs">PPIA</text>
<rect x="320.00" y="446.60" width="13.25" height="7.36" fill="#e89090" stroke="#6a6a6a" stroke-width="0.6"/>
<rect x="333.25" y="446.60" width="13.25" height="7.36" fill="#eeb4b4" stroke="#6a6a6a" stroke-width="0.6"/>
<rect x="346.50" y="446.60" width="13.10" height="7.36" fill="#bbc0e0" stroke="#6a6a6a" stroke-width="0.6"/>
<rect x="359.60" y="446.60" width="13.40" height="7.36" fill="#f0c0c0" stroke="#6a6a6a" stroke-width="0.6"/>
<rect x="374.50" y="446.60" width="12.50" height="7.36" fill="#2c3c97" stroke="#6a6a6a" stroke-width="0.6"/>
<rect x="387.00" y="446.60" width="12.60" height="7.36" fill="#cbcee7" stroke="#6a6a6a" stroke-width="0.6"/>
<rect x="312.3" y="446.60" width="7" height="7.36" fill="#7a68b8" stroke="#6a6a6a" stroke-width="0.4"/>
<text x="403.40" y="452.68" font-size="6.7" text-anchor="start" fill="#333" stroke="#333" stroke-width="0.18" font-style="italic" textLength="15.69" lengthAdjust="spacingAndGlyphs">ENO2</text>
<rect x="320.00" y="453.96" width="13.25" height="7.36" fill="#eca8a8" stroke="#6a6a6a" stroke-width="0.6"/>
<rect x="333.25" y="453.96" width="13.25" height="7.36" fill="#e89090" stroke="#6a6a6a" stroke-width="0.6"/>
<rect x="346.50" y="453.96" width="13.10" height="7.36" fill="#bbc0e0" stroke="#6a6a6a" stroke-width="0.6"/>
<rect x="359.60" y="453.96" width="13.40" height="7.36" fill="#f4d7d7" stroke="#6a6a6a" stroke-width="0.6"/>
<rect x="374.50" y="453.96" width="12.50" height="7.36" fill="#2c3c97" stroke="#6a6a6a" stroke-width="0.6"/>
<rect x="387.00" y="453.96" width="12.60" height="7.36" fill="#bbc0e0" stroke="#6a6a6a" stroke-width="0.6"/>
<rect x="312.3" y="453.96" width="7" height="7.36" fill="#7a68b8" stroke="#6a6a6a" stroke-width="0.4"/>
<text x="403.40" y="460.04" font-size="6.7" text-anchor="start" fill="#333" stroke="#333" stroke-width="0.18" font-style="italic" textLength="10.89" lengthAdjust="spacingAndGlyphs">AK4</text>
<rect x="320.00" y="461.33" width="13.25" height="7.36" fill="#e37a7a" stroke="#6a6a6a" stroke-width="0.6"/>
<rect x="333.25" y="461.33" width="13.25" height="7.36" fill="#f2cbcc" stroke="#6a6a6a" stroke-width="0.6"/>
<rect x="346.50" y="461.33" width="13.10" height="7.36" fill="#f0c0c0" stroke="#6a6a6a" stroke-width="0.6"/>
<rect x="359.60" y="461.33" width="13.40" height="7.36" fill="#6872bc" stroke="#6a6a6a" stroke-width="0.6"/>
<rect x="374.50" y="461.33" width="12.50" height="7.36" fill="#9198ce" stroke="#6a6a6a" stroke-width="0.6"/>
<rect x="387.00" y="461.33" width="12.60" height="7.36" fill="#6872bc" stroke="#6a6a6a" stroke-width="0.6"/>
<rect x="312.3" y="461.33" width="7" height="7.36" fill="#7a68b8" stroke="#6a6a6a" stroke-width="0.4"/>
<text x="403.40" y="467.41" font-size="6.7" text-anchor="start" fill="#333" stroke="#333" stroke-width="0.18" font-style="italic" textLength="15.69" lengthAdjust="spacingAndGlyphs">GOT2</text>
<rect x="320.00" y="468.69" width="13.25" height="7.36" fill="#de6666" stroke="#6a6a6a" stroke-width="0.6"/>
<rect x="333.25" y="468.69" width="13.25" height="7.36" fill="#f0c0c0" stroke="#6a6a6a" stroke-width="0.6"/>
<rect x="346.50" y="468.69" width="13.10" height="7.36" fill="#cbcee7" stroke="#6a6a6a" stroke-width="0.6"/>
<rect x="359.60" y="468.69" width="13.40" height="7.36" fill="#9ea5d4" stroke="#6a6a6a" stroke-width="0.6"/>
<rect x="374.50" y="468.69" width="12.50" height="7.36" fill="#6872bc" stroke="#6a6a6a" stroke-width="0.6"/>
<rect x="387.00" y="468.69" width="12.60" height="7.36" fill="#acb2da" stroke="#6a6a6a" stroke-width="0.6"/>
<rect x="312.3" y="468.69" width="7" height="7.36" fill="#7a68b8" stroke="#6a6a6a" stroke-width="0.4"/>
<text x="403.40" y="474.77" font-size="6.7" text-anchor="start" fill="#333" stroke="#333" stroke-width="0.18" font-style="italic" textLength="21.46" lengthAdjust="spacingAndGlyphs">SLC2A1</text>
<rect x="320.00" y="476.05" width="13.25" height="7.36" fill="#d23a3c" stroke="#6a6a6a" stroke-width="0.6"/>
<rect x="333.25" y="476.05" width="13.25" height="7.36" fill="#acb2da" stroke="#6a6a6a" stroke-width="0.6"/>
<rect x="346.50" y="476.05" width="13.10" height="7.36" fill="#acb2da" stroke="#6a6a6a" stroke-width="0.6"/>
<rect x="359.60" y="476.05" width="13.40" height="7.36" fill="#9ea5d4" stroke="#6a6a6a" stroke-width="0.6"/>
<rect x="374.50" y="476.05" width="12.50" height="7.36" fill="#acb2da" stroke="#6a6a6a" stroke-width="0.6"/>
<rect x="387.00" y="476.05" width="12.60" height="7.36" fill="#acb2da" stroke="#6a6a6a" stroke-width="0.6"/>
<rect x="312.3" y="476.05" width="7" height="7.36" fill="#7a68b8" stroke="#6a6a6a" stroke-width="0.4"/>
<text x="403.40" y="482.13" font-size="6.7" text-anchor="start" fill="#333" stroke="#333" stroke-width="0.18" font-style="italic" textLength="11.21" lengthAdjust="spacingAndGlyphs">HK3</text>
<rect x="320.00" y="483.41" width="13.25" height="7.36" fill="#d44244" stroke="#6a6a6a" stroke-width="0.6"/>
<rect x="333.25" y="483.41" width="13.25" height="7.36" fill="#9ea5d4" stroke="#6a6a6a" stroke-width="0.6"/>
<rect x="346.50" y="483.41" width="13.10" height="7.36" fill="#9ea5d4" stroke="#6a6a6a" stroke-width="0.6"/>
<rect x="359.60" y="483.41" width="13.40" height="7.36" fill="#f9f9fa" stroke="#6a6a6a" stroke-width="0.6"/>
<rect x="374.50" y="483.41" width="12.50" height="7.36" fill="#9ea5d4" stroke="#6a6a6a" stroke-width="0.6"/>
<rect x="387.00" y="483.41" width="12.60" height="7.36" fill="#dadded" stroke="#6a6a6a" stroke-width="0.6"/>
<rect x="312.3" y="483.41" width="7" height="7.36" fill="#7a68b8" stroke="#6a6a6a" stroke-width="0.4"/>
<text x="403.40" y="489.49" font-size="6.7" text-anchor="start" fill="#333" stroke="#333" stroke-width="0.18" font-style="italic" textLength="11.21" lengthAdjust="spacingAndGlyphs">HK2</text>
<rect x="320.00" y="490.77" width="13.25" height="7.36" fill="#eca8a8" stroke="#6a6a6a" stroke-width="0.6"/>
<rect x="333.25" y="490.77" width="13.25" height="7.36" fill="#cbcee7" stroke="#6a6a6a" stroke-width="0.6"/>
<rect x="346.50" y="490.77" width="13.10" height="7.36" fill="#ea9c9c" stroke="#6a6a6a" stroke-width="0.6"/>
<rect x="359.60" y="490.77" width="13.40" height="7.36" fill="#f0c0c0" stroke="#6a6a6a" stroke-width="0.6"/>
<rect x="374.50" y="490.77" width="12.50" height="7.36" fill="#767fc2" stroke="#6a6a6a" stroke-width="0.6"/>
<rect x="387.00" y="490.77" width="12.60" height="7.36" fill="#4e5bae" stroke="#6a6a6a" stroke-width="0.6"/>
<rect x="312.3" y="490.77" width="7" height="7.36" fill="#7a68b8" stroke="#6a6a6a" stroke-width="0.4"/>
<text x="403.40" y="496.85" font-size="6.7" text-anchor="start" fill="#333" stroke="#333" stroke-width="0.18" font-style="italic" textLength="15.37" lengthAdjust="spacingAndGlyphs">PGK2</text>
<rect x="320.00" y="498.14" width="13.25" height="7.36" fill="#eca8a8" stroke="#6a6a6a" stroke-width="0.6"/>
<rect x="333.25" y="498.14" width="13.25" height="7.36" fill="#f0c0c0" stroke="#6a6a6a" stroke-width="0.6"/>
<rect x="346.50" y="498.14" width="13.10" height="7.36" fill="#9198ce" stroke="#6a6a6a" stroke-width="0.6"/>
<rect x="359.60" y="498.14" width="13.40" height="7.36" fill="#eeb4b4" stroke="#6a6a6a" stroke-width="0.6"/>
<rect x="374.50" y="498.14" width="12.50" height="7.36" fill="#f9f9fa" stroke="#6a6a6a" stroke-width="0.6"/>
<rect x="387.00" y="498.14" width="12.60" height="7.36" fill="#32429b" stroke="#6a6a6a" stroke-width="0.6"/>
<rect x="312.3" y="498.14" width="7" height="7.36" fill="#96a6ba" stroke="#6a6a6a" stroke-width="0.4"/>
<text x="403.40" y="504.22" font-size="6.7" text-anchor="start" fill="#333" stroke="#333" stroke-width="0.18" font-style="italic" textLength="25.3" lengthAdjust="spacingAndGlyphs">PRPS1L1</text>
<path d="M312.30 295.68 H308.70 V303.04 H312.30" fill="none" stroke="#555" stroke-width="0.55"/>
<path d="M312.30 310.40 H304.70 V317.77 H312.30" fill="none" stroke="#555" stroke-width="0.55"/>
<path d="M308.70 299.36 H299.10 V314.09 H304.70" fill="none" stroke="#555" stroke-width="0.55"/>
<path d="M312.30 325.13 H307.50 V332.49 H312.30" fill="none" stroke="#555" stroke-width="0.55"/>
<path d="M312.30 339.85 H308.70 V347.22 H312.30" fill="none" stroke="#555" stroke-width="0.55"/>
<path d="M307.50 328.81 H306.30 V343.53 H308.70" fill="none" stroke="#555" stroke-width="0.55"/>
<path d="M312.30 354.58 H308.50 V361.94 H312.30" fill="none" stroke="#555" stroke-width="0.55"/>
<path d="M312.30 376.66 H309.00 V384.02 H312.30" fill="none" stroke="#555" stroke-width="0.55"/>
<path d="M312.30 369.30 H306.50 V380.34 H309.00" fill="none" stroke="#555" stroke-width="0.55"/>
<path d="M308.50 358.26 H304.00 V374.82 H306.50" fill="none" stroke="#555" stroke-width="0.55"/>
<path d="M312.30 391.39 H309.30 V398.75 H312.30" fill="none" stroke="#555" stroke-width="0.55"/>
<path d="M312.30 406.11 H308.00 V413.47 H312.30" fill="none" stroke="#555" stroke-width="0.55"/>
<path d="M309.30 395.07 H308.40 V409.79 H308.00" fill="none" stroke="#555" stroke-width="0.55"/>
<path d="M312.30 420.84 H308.50 V428.20 H312.30" fill="none" stroke="#555" stroke-width="0.55"/>
<path d="M312.30 435.56 H308.70 V442.92 H312.30" fill="none" stroke="#555" stroke-width="0.55"/>
<path d="M312.30 457.64 H309.00 V465.01 H312.30" fill="none" stroke="#555" stroke-width="0.55"/>
<path d="M312.30 450.28 H307.50 V461.33 H309.00" fill="none" stroke="#555" stroke-width="0.55"/>
<path d="M308.70 439.24 H306.00 V455.80 H307.50" fill="none" stroke="#555" stroke-width="0.55"/>
<path d="M308.50 424.52 H307.20 V447.52 H306.00" fill="none" stroke="#555" stroke-width="0.55"/>
<path d="M308.40 402.43 H306.80 V436.02 H307.20" fill="none" stroke="#555" stroke-width="0.55"/>
<path d="M304.00 366.54 H303.10 V419.22 H306.80" fill="none" stroke="#555" stroke-width="0.55"/>
<path d="M312.30 472.37 H307.00 V479.73 H312.30" fill="none" stroke="#555" stroke-width="0.55"/>
<path d="M312.30 494.46 H307.80 V501.82 H312.30" fill="none" stroke="#555" stroke-width="0.55"/>
<path d="M312.30 487.09 H305.50 V498.14 H307.80" fill="none" stroke="#555" stroke-width="0.55"/>
<path d="M307.00 476.05 H304.70 V492.61 H305.50" fill="none" stroke="#555" stroke-width="0.55"/>
<path d="M303.10 392.88 H300.95 V484.33 H304.70" fill="none" stroke="#555" stroke-width="0.55"/>
<path d="M306.30 336.17 H300.70 V438.61 H300.95" fill="none" stroke="#555" stroke-width="0.55"/>
<path d="M299.10 306.72 H298.30 V387.39 H300.70" fill="none" stroke="#555" stroke-width="0.55"/>
<text x="329.62" y="509.90" font-size="6.7" text-anchor="end" fill="#333" stroke="#333" stroke-width="0.18" transform="rotate(-45 329.625 509.9)">HC1</text>
<text x="342.88" y="509.90" font-size="6.7" text-anchor="end" fill="#333" stroke="#333" stroke-width="0.18" transform="rotate(-45 342.875 509.9)">HC2</text>
<text x="356.05" y="509.90" font-size="6.7" text-anchor="end" fill="#333" stroke="#333" stroke-width="0.18" transform="rotate(-45 356.05 509.9)">HC3</text>
<text x="369.30" y="509.90" font-size="6.7" text-anchor="end" fill="#333" stroke="#333" stroke-width="0.18" transform="rotate(-45 369.3 509.9)">HC4</text>
<text x="383.75" y="509.90" font-size="6.7" text-anchor="end" fill="#333" stroke="#333" stroke-width="0.18" transform="rotate(-45 383.75 509.9)">P1</text>
<text x="396.30" y="509.90" font-size="6.7" text-anchor="end" fill="#333" stroke="#333" stroke-width="0.18" transform="rotate(-45 396.3 509.9)">P2</text>
<text x="435.90" y="297.20" font-size="6.9" text-anchor="start" fill="#3a3a3a" stroke="#3a3a3a" stroke-width="0.18" textLength="22.8" lengthAdjust="spacingAndGlyphs">Z−score</text>
<rect x="442.50" y="302.00" width="6.00" height="81.90" fill="url(#zs)"/>
<text x="449.60" y="305.80" font-size="7" text-anchor="start" fill="#333" stroke="#333" stroke-width="0.18">+2</text>
<text x="449.60" y="326.00" font-size="7" text-anchor="start" fill="#333" stroke="#333" stroke-width="0.18">+1</text>
<text x="449.60" y="345.90" font-size="7" text-anchor="start" fill="#333" stroke="#333" stroke-width="0.18">0</text>
<text x="449.60" y="365.60" font-size="7" text-anchor="start" fill="#333" stroke="#333" stroke-width="0.18">−1</text>
<text x="449.60" y="385.10" font-size="7" text-anchor="start" fill="#333" stroke="#333" stroke-width="0.18">−2</text>
<text x="435.90" y="434.10" font-size="6.9" text-anchor="start" fill="#3a3a3a" stroke="#3a3a3a" stroke-width="0.18" textLength="30.24" lengthAdjust="spacingAndGlyphs">Significant</text>
<text x="435.90" y="441.60" font-size="6.9" text-anchor="start" fill="#3a3a3a" stroke="#3a3a3a" stroke-width="0.18" textLength="64.1" lengthAdjust="spacingAndGlyphs">differential expression</text>
<rect x="436.30" y="448.50" width="4.50" height="6.40" fill="#7a68b8"/>
<text x="444.30" y="454.00" font-size="6.8" text-anchor="start" fill="#3a3a3a" stroke="#3a3a3a" stroke-width="0.18" textLength="41.45" lengthAdjust="spacingAndGlyphs">In P and in HC</text>
<rect x="436.30" y="455.30" width="4.50" height="6.40" fill="#d0a49a"/>
<text x="444.30" y="460.80" font-size="6.8" text-anchor="start" fill="#3a3a3a" stroke="#3a3a3a" stroke-width="0.18" textLength="25.93" lengthAdjust="spacingAndGlyphs">Only in P</text>
<rect x="436.30" y="462.10" width="4.50" height="6.40" fill="#b4b4bc"/>
<text x="444.30" y="467.60" font-size="6.8" text-anchor="start" fill="#3a3a3a" stroke="#3a3a3a" stroke-width="0.18" textLength="40.14" lengthAdjust="spacingAndGlyphs">Not significant</text>
<rect x="436.30" y="468.90" width="4.50" height="6.40" fill="#96a6ba"/>
<text x="444.30" y="474.40" font-size="6.8" text-anchor="start" fill="#3a3a3a" stroke="#3a3a3a" stroke-width="0.18" textLength="30.9" lengthAdjust="spacingAndGlyphs">Only in HC</text>
<text x="435.90" y="483.70" font-size="6.9" text-anchor="start" fill="#3a3a3a" stroke="#3a3a3a" stroke-width="0.18" textLength="28.9" lengthAdjust="spacingAndGlyphs">Genotype</text>
<rect x="436.30" y="490.00" width="5.30" height="6.50" fill="#d8a898"/>
<text x="444.30" y="495.70" font-size="6.8" text-anchor="start" fill="#3a3a3a" stroke="#3a3a3a" stroke-width="0.18" textLength="23.1" lengthAdjust="spacingAndGlyphs">Patients</text>
<rect x="436.30" y="497.70" width="5.30" height="6.50" fill="#9aa8bc"/>
<text x="444.30" y="503.40" font-size="6.8" text-anchor="start" fill="#3a3a3a" stroke="#3a3a3a" stroke-width="0.18" textLength="9.23" lengthAdjust="spacingAndGlyphs">HC</text>
<text x="7.10" y="538.00" font-size="12" text-anchor="start" fill="#111" stroke="#111" stroke-width="0.18" font-weight="bold">D</text>
<line x1="65.50" y1="549.05" x2="65.50" y2="673.30" stroke="#222" stroke-width="1.1"/>
<line x1="62.50" y1="551.25" x2="65.50" y2="551.25" stroke="#222" stroke-width="0.9"/>
<text x="59.50" y="553.55" font-size="6.8" text-anchor="end" fill="#333" stroke="#333" stroke-width="0.18">0.50</text>
<line x1="62.50" y1="571.25" x2="65.50" y2="571.25" stroke="#222" stroke-width="0.9"/>
<text x="59.50" y="573.55" font-size="6.8" text-anchor="end" fill="#333" stroke="#333" stroke-width="0.18">0.25</text>
<line x1="62.50" y1="591.25" x2="65.50" y2="591.25" stroke="#222" stroke-width="0.9"/>
<text x="59.50" y="593.55" font-size="6.8" text-anchor="end" fill="#333" stroke="#333" stroke-width="0.18">0.00</text>
<line x1="62.50" y1="611.25" x2="65.50" y2="611.25" stroke="#222" stroke-width="0.9"/>
<text x="59.50" y="613.55" font-size="6.8" text-anchor="end" fill="#333" stroke="#333" stroke-width="0.18">−0.25</text>
<line x1="66.50" y1="591.25" x2="254.50" y2="591.25" stroke="#c4c4c4" stroke-width="0.9" stroke-dasharray="3.6 2.8"/>
<rect x="65.40" y="614.3" width="4.20" height="11.0" fill="#d2186f"/><rect x="66.39" y="614.3" width="0.40" height="11.0" fill="#ea7fae" opacity="0.8"/><rect x="68.89" y="614.3" width="0.40" height="11.0" fill="#ffffff" opacity="0.8"/><rect x="71.20" y="614.3" width="4.20" height="11.0" fill="#d2186f"/><rect x="72.57" y="614.3" width="0.70" height="11.0" fill="#ea7fae" opacity="0.8"/><rect x="74.15" y="614.3" width="0.50" height="11.0" fill="#ea7fae" opacity="0.8"/><rect x="77.70" y="614.3" width="7.30" height="11.0" fill="#d2186f"/><rect x="78.34" y="614.3" width="0.50" height="11.0" fill="#ea7fae" opacity="0.8"/><rect x="81.29" y="614.3" width="0.40" height="11.0" fill="#ea7fae" opacity="0.8"/><rect x="83.75" y="614.3" width="0.70" height="11.0" fill="#ea7fae" opacity="0.8"/><rect x="89.20" y="614.3" width="3.10" height="11.0" fill="#d2186f"/><rect x="90.30" y="614.3" width="0.40" height="11.0" fill="#ea7fae" opacity="0.8"/><rect x="96.90" y="614.3" width="3.50" height="11.0" fill="#d2186f"/><rect x="97.60" y="614.3" width="0.50" height="11.0" fill="#ea7fae" opacity="0.8"/><rect x="102.70" y="614.3" width="1.90" height="11.0" fill="#d2186f"/><rect x="105.80" y="614.3" width="1.30" height="11.0" fill="#d2186f"/><rect x="109.00" y="614.3" width="1.40" height="11.0" fill="#d2186f"/><rect x="111.90" y="614.3" width="1.90" height="11.0" fill="#d2186f"/><rect x="112.55" y="614.3" width="0.70" height="11.0" fill="#ffffff" opacity="0.8"/><rect x="114.80" y="614.3" width="1.00" height="11.0" fill="#d2186f"/><rect x="117.70" y="614.3" width="1.00" height="11.0" fill="#d2186f"/><rect x="121.20" y="614.3" width="3.20" height="11.0" fill="#d2186f"/><rect x="122.55" y="614.3" width="0.70" height="11.0" fill="#ea7fae" opacity="0.8"/><rect x="130.80" y="614.3" width="2.30" height="11.0" fill="#d2186f"/><rect x="132.10" y="614.3" width="0.50" height="11.0" fill="#ea7fae" opacity="0.8"/><rect x="136.00" y="614.3" width="1.30" height="11.0" fill="#d2186f"/><rect x="138.80" y="614.3" width="2.90" height="11.0" fill="#d2186f"/><rect x="139.75" y="614.3" width="0.40" height="11.0" fill="#ffffff" opacity="0.8"/><rect x="146.90" y="614.3" width="0.60" height="11.0" fill="#d2186f"/><rect x="153.80" y="614.3" width="2.40" height="11.0" fill="#d2186f"/><rect x="154.75" y="614.3" width="0.50" height="11.0" fill="#ea7fae" opacity="0.8"/><rect x="162.70" y="614.3" width="2.00" height="11.0" fill="#d2186f"/><rect x="163.63" y="614.3" width="0.40" height="11.0" fill="#ea7fae" opacity="0.8"/><rect x="165.50" y="614.3" width="0.50" height="11.0" fill="#d2186f"/><rect x="166.84" y="614.3" width="0.60" height="11.0" fill="#d2186f"/><rect x="169.58" y="614.3" width="0.50" height="11.0" fill="#d2186f"/><rect x="171.60" y="614.3" width="0.60" height="11.0" fill="#d2186f"/><rect x="174.80" y="614.3" width="6.50" height="11.0" fill="#d2186f"/><rect x="176.05" y="614.3" width="0.50" height="11.0" fill="#ea7fae" opacity="0.8"/><rect x="179.02" y="614.3" width="0.50" height="11.0" fill="#ea7fae" opacity="0.8"/><rect x="184.30" y="614.3" width="1.00" height="11.0" fill="#d2186f"/><rect x="187.30" y="614.3" width="1.00" height="11.0" fill="#d2186f"/><rect x="191.00" y="614.3" width="1.60" height="11.0" fill="#d2186f"/><rect x="191.96" y="614.3" width="0.70" height="11.0" fill="#ffffff" opacity="0.8"/><rect x="196.40" y="614.3" width="7.10" height="11.0" fill="#d2186f"/><rect x="197.33" y="614.3" width="0.50" height="11.0" fill="#ffffff" opacity="0.8"/><rect x="199.32" y="614.3" width="0.50" height="11.0" fill="#ea7fae" opacity="0.8"/><rect x="200.96" y="614.3" width="0.40" height="11.0" fill="#ea7fae" opacity="0.8"/><rect x="202.27" y="614.3" width="0.50" height="11.0" fill="#ea7fae" opacity="0.8"/><rect x="207.00" y="614.3" width="8.60" height="11.0" fill="#d2186f"/><rect x="208.10" y="614.3" width="0.50" height="11.0" fill="#ea7fae" opacity="0.8"/><rect x="209.73" y="614.3" width="0.50" height="11.0" fill="#ffffff" opacity="0.8"/><rect x="211.59" y="614.3" width="0.40" height="11.0" fill="#ea7fae" opacity="0.8"/><rect x="214.51" y="614.3" width="0.50" height="11.0" fill="#ffffff" opacity="0.8"/><rect x="216.60" y="614.3" width="8.10" height="11.0" fill="#d2186f"/><rect x="217.64" y="614.3" width="0.50" height="11.0" fill="#ea7fae" opacity="0.8"/><rect x="219.24" y="614.3" width="0.40" height="11.0" fill="#ea7fae" opacity="0.8"/><rect x="220.90" y="614.3" width="0.40" height="11.0" fill="#ea7fae" opacity="0.8"/><rect x="223.07" y="614.3" width="0.70" height="11.0" fill="#ea7fae" opacity="0.8"/><rect x="226.70" y="614.3" width="9.10" height="11.0" fill="#d2186f"/><rect x="227.21" y="614.3" width="0.50" height="11.0" fill="#ffffff" opacity="0.8"/><rect x="229.24" y="614.3" width="0.70" height="11.0" fill="#ea7fae" opacity="0.8"/><rect x="232.65" y="614.3" width="0.70" height="11.0" fill="#ffffff" opacity="0.8"/><rect x="237.80" y="614.3" width="16.20" height="11.0" fill="#d2186f"/><rect x="239.28" y="614.3" width="0.70" height="11.0" fill="#ea7fae" opacity="0.8"/><rect x="241.70" y="614.3" width="0.70" height="11.0" fill="#ffffff" opacity="0.8"/><rect x="243.98" y="614.3" width="0.50" height="11.0" fill="#ea7fae" opacity="0.8"/><rect x="245.49" y="614.3" width="0.70" height="11.0" fill="#ea7fae" opacity="0.8"/><rect x="247.11" y="614.3" width="0.40" height="11.0" fill="#ea7fae" opacity="0.8"/><rect x="249.19" y="614.3" width="0.40" height="11.0" fill="#ea7fae" opacity="0.8"/><rect x="251.59" y="614.3" width="0.40" height="11.0" fill="#ea7fae" opacity="0.8"/>
<rect x="65.40" y="626.3" width="35.00" height="10.5" fill="#2fa0d8"/><rect x="66.70" y="626.3" width="0.50" height="10.5" fill="#ffffff" opacity="0.8"/><rect x="68.06" y="626.3" width="0.40" height="10.5" fill="#ffffff" opacity="0.8"/><rect x="70.01" y="626.3" width="0.70" height="10.5" fill="#8fcdec" opacity="0.8"/><rect x="73.42" y="626.3" width="0.70" height="10.5" fill="#8fcdec" opacity="0.8"/><rect x="75.87" y="626.3" width="0.40" height="10.5" fill="#8fcdec" opacity="0.8"/><rect x="79.05" y="626.3" width="0.50" height="10.5" fill="#8fcdec" opacity="0.8"/><rect x="81.32" y="626.3" width="0.40" height="10.5" fill="#8fcdec" opacity="0.8"/><rect x="82.73" y="626.3" width="0.50" height="10.5" fill="#ffffff" opacity="0.8"/><rect x="84.56" y="626.3" width="0.70" height="10.5" fill="#8fcdec" opacity="0.8"/><rect x="87.09" y="626.3" width="0.40" height="10.5" fill="#ffffff" opacity="0.8"/><rect x="89.01" y="626.3" width="0.70" height="10.5" fill="#ffffff" opacity="0.8"/><rect x="92.34" y="626.3" width="0.70" height="10.5" fill="#8fcdec" opacity="0.8"/><rect x="95.80" y="626.3" width="0.40" height="10.5" fill="#ffffff" opacity="0.8"/><rect x="98.69" y="626.3" width="0.70" height="10.5" fill="#8fcdec" opacity="0.8"/><rect x="101.00" y="626.3" width="0.60" height="10.5" fill="#2fa0d8"/><rect x="103.05" y="626.3" width="0.80" height="10.5" fill="#2fa0d8"/><rect x="104.81" y="626.3" width="0.50" height="10.5" fill="#8fcdec"/><rect x="107.22" y="626.3" width="0.80" height="10.5" fill="#8fcdec"/><rect x="108.94" y="626.3" width="0.60" height="10.5" fill="#2fa0d8"/><rect x="110.18" y="626.3" width="0.50" height="10.5" fill="#2fa0d8"/><rect x="112.04" y="626.3" width="0.50" height="10.5" fill="#2fa0d8"/><rect x="114.67" y="626.3" width="0.60" height="10.5" fill="#8fcdec"/><rect x="117.03" y="626.3" width="0.60" height="10.5" fill="#8fcdec"/><rect x="118.81" y="626.3" width="0.50" height="10.5" fill="#2fa0d8"/><rect x="121.50" y="626.3" width="7.70" height="10.5" fill="#2fa0d8"/><rect x="122.51" y="626.3" width="0.50" height="10.5" fill="#ffffff" opacity="0.8"/><rect x="125.78" y="626.3" width="0.70" height="10.5" fill="#8fcdec" opacity="0.8"/><rect x="128.24" y="626.3" width="0.70" height="10.5" fill="#8fcdec" opacity="0.8"/><rect x="133.00" y="626.3" width="0.50" height="10.5" fill="#8fcdec"/><rect x="134.29" y="626.3" width="0.60" height="10.5" fill="#2fa0d8"/><rect x="136.69" y="626.3" width="0.60" height="10.5" fill="#8fcdec"/><rect x="138.59" y="626.3" width="0.80" height="10.5" fill="#2fa0d8"/><rect x="141.27" y="626.3" width="0.80" height="10.5" fill="#2fa0d8"/><rect x="153.80" y="626.3" width="0.80" height="10.5" fill="#2fa0d8"/><rect x="162.00" y="626.3" width="5.00" height="10.5" fill="#2fa0d8"/><rect x="163.59" y="626.3" width="0.40" height="10.5" fill="#8fcdec" opacity="0.8"/><rect x="164.84" y="626.3" width="0.70" height="10.5" fill="#8fcdec" opacity="0.8"/><rect x="169.00" y="626.3" width="2.00" height="10.5" fill="#2fa0d8"/><rect x="169.72" y="626.3" width="0.70" height="10.5" fill="#8fcdec" opacity="0.8"/><rect x="172.80" y="626.3" width="1.40" height="10.5" fill="#2fa0d8"/><rect x="178.00" y="626.3" width="2.00" height="10.5" fill="#2fa0d8"/><rect x="179.32" y="626.3" width="0.40" height="10.5" fill="#8fcdec" opacity="0.8"/><rect x="183.00" y="626.3" width="1.00" height="10.5" fill="#2fa0d8"/><rect x="185.30" y="626.3" width="3.00" height="10.5" fill="#2fa0d8"/><rect x="186.77" y="626.3" width="0.70" height="10.5" fill="#ffffff" opacity="0.8"/><rect x="189.30" y="626.3" width="0.60" height="10.5" fill="#8fcdec"/><rect x="190.81" y="626.3" width="0.50" height="10.5" fill="#2fa0d8"/><rect x="192.25" y="626.3" width="0.80" height="10.5" fill="#2fa0d8"/><rect x="196.40" y="626.3" width="2.00" height="10.5" fill="#2fa0d8"/><rect x="197.29" y="626.3" width="0.50" height="10.5" fill="#8fcdec" opacity="0.8"/><rect x="199.40" y="626.3" width="5.10" height="10.5" fill="#2fa0d8"/><rect x="201.01" y="626.3" width="0.50" height="10.5" fill="#ffffff" opacity="0.8"/><rect x="203.48" y="626.3" width="0.70" height="10.5" fill="#8fcdec" opacity="0.8"/><rect x="206.50" y="626.3" width="3.00" height="10.5" fill="#2fa0d8"/><rect x="208.32" y="626.3" width="0.40" height="10.5" fill="#ffffff" opacity="0.8"/><rect x="213.60" y="626.3" width="40.40" height="10.5" fill="#2fa0d8"/><rect x="214.87" y="626.3" width="0.50" height="10.5" fill="#8fcdec" opacity="0.8"/><rect x="217.38" y="626.3" width="0.40" height="10.5" fill="#8fcdec" opacity="0.8"/><rect x="218.87" y="626.3" width="0.70" height="10.5" fill="#ffffff" opacity="0.8"/><rect x="220.61" y="626.3" width="0.40" height="10.5" fill="#8fcdec" opacity="0.8"/><rect x="223.17" y="626.3" width="0.70" height="10.5" fill="#ffffff" opacity="0.8"/><rect x="225.64" y="626.3" width="0.40" height="10.5" fill="#ffffff" opacity="0.8"/><rect x="226.95" y="626.3" width="0.40" height="10.5" fill="#8fcdec" opacity="0.8"/><rect x="228.23" y="626.3" width="0.40" height="10.5" fill="#ffffff" opacity="0.8"/><rect x="230.34" y="626.3" width="0.40" height="10.5" fill="#8fcdec" opacity="0.8"/><rect x="232.43" y="626.3" width="0.70" height="10.5" fill="#ffffff" opacity="0.8"/><rect x="235.14" y="626.3" width="0.40" height="10.5" fill="#ffffff" opacity="0.8"/><rect x="236.89" y="626.3" width="0.70" height="10.5" fill="#ffffff" opacity="0.8"/><rect x="240.01" y="626.3" width="0.70" height="10.5" fill="#8fcdec" opacity="0.8"/><rect x="242.91" y="626.3" width="0.50" height="10.5" fill="#ffffff" opacity="0.8"/><rect x="245.99" y="626.3" width="0.40" height="10.5" fill="#8fcdec" opacity="0.8"/><rect x="247.46" y="626.3" width="0.40" height="10.5" fill="#8fcdec" opacity="0.8"/><rect x="249.55" y="626.3" width="0.40" height="10.5" fill="#ffffff" opacity="0.8"/><rect x="251.23" y="626.3" width="0.40" height="10.5" fill="#8fcdec" opacity="0.8"/>
<line x1="62.50" y1="640.90" x2="65.50" y2="640.90" stroke="#222" stroke-width="0.9"/>
<text x="59.50" y="643.20" font-size="6.8" text-anchor="end" fill="#333" stroke="#333" stroke-width="0.18">10</text>
<line x1="62.50" y1="648.15" x2="65.50" y2="648.15" stroke="#222" stroke-width="0.9"/>
<text x="59.50" y="650.45" font-size="6.8" text-anchor="end" fill="#333" stroke="#333" stroke-width="0.18">5</text>
<line x1="62.50" y1="655.40" x2="65.50" y2="655.40" stroke="#222" stroke-width="0.9"/>
<text x="59.50" y="657.70" font-size="6.8" text-anchor="end" fill="#333" stroke="#333" stroke-width="0.18">0</text>
<line x1="62.50" y1="662.65" x2="65.50" y2="662.65" stroke="#222" stroke-width="0.9"/>
<text x="59.50" y="664.95" font-size="6.8" text-anchor="end" fill="#333" stroke="#333" stroke-width="0.18">−5</text>
<line x1="62.50" y1="669.90" x2="65.50" y2="669.90" stroke="#222" stroke-width="0.9"/>
<text x="59.50" y="672.20" font-size="6.8" text-anchor="end" fill="#333" stroke="#333" stroke-width="0.18">−10</text>
<line x1="65.50" y1="673.30" x2="254.50" y2="673.30" stroke="#222" stroke-width="1.1"/>
<line x1="118.00" y1="673.30" x2="118.00" y2="676.30" stroke="#222" stroke-width="0.9"/>
<text x="118.00" y="685.00" font-size="6.8" text-anchor="middle" fill="#333" stroke="#333" stroke-width="0.18">10000</text>
<line x1="171.25" y1="673.30" x2="171.25" y2="676.30" stroke="#222" stroke-width="0.9"/>
<text x="171.25" y="685.00" font-size="6.8" text-anchor="middle" fill="#333" stroke="#333" stroke-width="0.18">20000</text>
<line x1="224.50" y1="673.30" x2="224.50" y2="676.30" stroke="#222" stroke-width="0.9"/>
<text x="224.50" y="685.00" font-size="6.8" text-anchor="middle" fill="#333" stroke="#333" stroke-width="0.18">30000</text>
<text x="161.70" y="696.60" font-size="8.6" text-anchor="middle" fill="#333" stroke="#333" stroke-width="0.18" textLength="71.6" lengthAdjust="spacingAndGlyphs">Rank in ordered dataset</text>
<text x="26.70" y="576.20" font-size="8.6" text-anchor="middle" fill="#333" stroke="#333" stroke-width="0.18" transform="rotate(-90 26.7 576.2)" textLength="62.5" lengthAdjust="spacingAndGlyphs">Running enrichment</text>
<text x="38.20" y="575.80" font-size="8.6" text-anchor="middle" fill="#333" stroke="#333" stroke-width="0.18" transform="rotate(-90 38.2 575.8)" textLength="16" lengthAdjust="spacingAndGlyphs">score</text>
<text x="37.00" y="649.40" font-size="8.6" text-anchor="middle" fill="#333" stroke="#333" stroke-width="0.18" transform="rotate(-90 37.0 649.4)" textLength="53.7" lengthAdjust="spacingAndGlyphs">Ranked list metric</text>
<path d="M65.50 655.4 L65.50 647.5 C69.50 652,75.50 654.6,90.50 655 L178.90 655.4 Z" fill="#d2d2d2"/><path d="M169.45 655.4 L234.50 656.4 C246.50 657.5,252.50 660,254.20 672.8 L254.20 655.4 Z" fill="#cdcdcd"/>
<line x1="65.50" y1="655.40" x2="254.50" y2="655.40" stroke="#b8b8b8" stroke-width="0.8"/>
<text x="71.50" y="648.70" font-size="7.6" text-anchor="start" fill="#444" stroke="#444" stroke-width="0.18" textLength="56.2" lengthAdjust="spacingAndGlyphs">Upregulated genes</text>
<text x="247.00" y="668.60" font-size="7.6" text-anchor="end" fill="#444" stroke="#444" stroke-width="0.18" textLength="64.6" lengthAdjust="spacingAndGlyphs">Downregulated genes</text>
<path d="M65.80 577.14 L66.20 571.20 L66.70 565.83 L67.70 564.26 L68.70 562.38 L69.63 561.15 L70.57 560.56 L71.50 559.63 L72.28 558.88 L73.06 558.87 L73.84 558.21 L74.62 557.87 L75.40 557.74 L76.16 557.47 L76.92 556.93 L77.68 556.87 L78.44 556.71 L79.20 556.42 L79.94 556.42 L80.68 556.56 L81.42 556.84 L82.15 556.57 L82.89 556.91 L83.63 556.93 L84.37 556.80 L85.11 557.03 L85.85 557.25 L86.58 557.28 L87.32 557.13 L88.06 557.67 L88.80 557.64 L89.55 557.84 L90.29 557.50 L91.04 557.68 L91.78 557.67 L92.53 558.14 L93.28 557.99 L94.02 558.01 L94.77 558.26 L95.52 558.61 L96.26 558.66 L97.01 558.48 L97.75 558.52 L98.50 559.01 L99.23 559.10 L99.96 559.44 L100.69 559.40 L101.42 559.66 L102.15 560.24 L102.88 560.38 L103.62 560.47 L104.35 561.17 L105.08 561.29 L105.81 561.64 L106.54 561.55 L107.27 562.21 L108.00 562.08 L108.75 562.78 L109.49 562.88 L110.24 563.12 L110.98 563.53 L111.73 564.01 L112.48 563.98 L113.22 564.21 L113.97 564.71 L114.72 564.87 L115.46 565.10 L116.21 565.43 L116.95 565.68 L117.70 566.05 L118.41 566.39 L119.13 566.67 L119.84 567.17 L120.56 567.22 L121.27 567.61 L121.99 567.73 L122.70 568.09 L123.42 568.21 L124.13 568.61 L124.85 568.77 L125.56 569.41 L126.28 569.60 L126.99 569.70 L127.71 570.13 L128.42 570.64 L129.14 570.51 L129.85 571.14 L130.57 571.23 L131.28 571.55 L132.00 572.00 L132.71 572.06 L133.43 572.40 L134.14 572.77 L134.86 573.20 L135.57 573.16 L136.29 573.68 L137.00 573.90 L137.71 574.12 L138.42 574.25 L139.13 574.47 L139.84 574.57 L140.55 574.86 L141.26 575.08 L141.97 575.66 L142.68 575.66 L143.39 575.87 L144.10 576.08 L144.81 576.70 L145.52 576.97 L146.23 577.11 L146.94 577.17 L147.65 577.40 L148.35 577.67 L149.06 578.00 L149.77 578.10 L150.48 578.49 L151.19 578.65 L151.90 579.25 L152.61 579.50 L153.32 579.54 L154.03 579.63 L154.74 580.24 L155.45 580.16 L156.16 580.43 L156.87 580.51 L157.58 580.94 L158.29 581.24 L159.00 581.50 L159.70 581.62 L160.41 582.05 L161.11 582.07 L161.82 582.47 L162.52 582.66 L163.23 583.09 L163.93 583.18 L164.64 583.44 L165.34 583.86 L166.05 584.09 L166.75 584.54 L167.45 584.79 L168.16 585.17 L168.86 585.40 L169.57 585.70 L170.27 586.05 L170.98 586.08 L171.68 586.32 L172.39 586.92 L173.09 586.78 L173.80 587.34 L174.50 587.57 L175.20 587.54 L175.91 588.21 L176.61 588.51 L177.32 588.65 L178.02 588.98 L178.73 589.29 L179.43 589.23 L180.14 589.69 L180.84 589.96 L181.55 590.39 L182.25 590.65 L182.95 590.94 L183.66 591.09 L184.36 591.51 L185.07 591.68 L185.77 591.96 L186.48 592.00 L187.18 592.17 L187.89 592.50 L188.59 592.88 L189.30 593.03 L190.00 593.67 L190.71 593.81 L191.43 594.14 L192.14 594.42 L192.86 594.73 L193.57 594.92 L194.29 594.97 L195.00 595.65 L195.71 595.91 L196.43 596.07 L197.14 596.37 L197.86 596.72 L198.57 596.71 L199.29 597.33 L200.00 597.38 L200.71 597.57 L201.43 597.95 L202.14 598.47 L202.86 598.50 L203.57 599.05 L204.29 599.45 L205.00 599.50 L205.71 599.73 L206.43 600.06 L207.14 600.45 L207.86 600.78 L208.57 600.99 L209.29 601.29 L210.00 601.29 L210.71 601.61 L211.43 601.95 L212.14 602.48 L212.86 602.55 L213.57 602.96 L214.29 602.97 L215.00 603.28 L215.72 603.57 L216.44 603.95 L217.17 604.15 L217.89 604.32 L218.61 604.31 L219.33 604.61 L220.06 604.77 L220.78 604.95 L221.50 604.96 L222.22 605.53 L222.94 605.37 L223.67 605.94 L224.39 606.10 L225.11 605.83 L225.83 606.23 L226.56 606.59 L227.28 606.85 L228.00 606.77 L228.71 606.71 L229.41 606.70 L230.12 607.09 L230.82 606.75 L231.53 606.96 L232.24 606.76 L232.94 606.98 L233.65 607.21 L234.35 606.83 L235.06 607.20 L235.76 607.06 L236.47 607.28 L237.18 607.21 L237.88 607.00 L238.59 607.35 L239.29 607.17 L240.00 606.96 L240.73 606.89 L241.45 607.07 L242.18 606.98 L242.91 606.85 L243.64 606.70 L244.36 606.74 L245.09 606.66 L245.82 606.86 L246.55 606.38 L247.27 606.69 L248.00 606.67 L249.00 604.81 L250.00 603.71 L251.00 602.11 L252.00 600.70 L253.00 595.89 L254.00 590.50" fill="none" stroke="#2fa0d8" stroke-width="1.15" stroke-linejoin="round"/>
<path d="M65.80 575.94 L66.20 574.45 L66.70 571.25 L67.70 568.54 L68.70 565.93 L69.49 565.63 L70.28 565.21 L71.06 564.76 L71.85 564.45 L72.64 564.48 L73.42 563.87 L74.21 563.86 L75.00 563.17 L75.80 563.06 L76.60 563.07 L77.40 562.78 L78.20 562.76 L79.00 562.93 L79.75 562.60 L80.50 562.28 L81.25 561.90 L82.00 561.76 L82.75 561.48 L83.50 561.00 L84.25 560.80 L85.00 560.17 L85.71 560.52 L86.43 560.38 L87.14 560.53 L87.86 560.47 L88.57 560.29 L89.29 560.17 L90.00 560.61 L90.71 560.35 L91.42 560.65 L92.12 560.72 L92.83 560.83 L93.54 561.19 L94.25 561.44 L94.96 561.21 L95.67 561.54 L96.38 561.50 L97.08 561.76 L97.79 561.81 L98.50 561.83 L99.23 562.00 L99.96 562.19 L100.69 562.71 L101.42 562.68 L102.15 562.71 L102.88 563.22 L103.62 563.43 L104.35 563.33 L105.08 563.34 L105.81 563.54 L106.54 563.66 L107.27 563.95 L108.00 564.00 L108.75 564.36 L109.49 564.66 L110.24 565.11 L110.98 565.56 L111.73 565.79 L112.48 565.91 L113.22 566.20 L113.97 566.55 L114.72 566.77 L115.46 567.04 L116.21 567.20 L116.95 567.60 L117.70 568.23 L118.41 568.10 L119.13 568.58 L119.84 568.93 L120.56 569.34 L121.27 569.30 L121.99 569.62 L122.70 569.90 L123.42 570.26 L124.13 570.57 L124.85 571.12 L125.56 571.35 L126.28 571.65 L126.99 571.52 L127.71 571.81 L128.42 572.44 L129.14 572.82 L129.85 572.90 L130.57 573.24 L131.28 573.24 L132.00 573.72 L132.71 574.28 L133.43 574.52 L134.14 574.82 L134.86 575.17 L135.57 575.10 L136.29 575.32 L137.00 575.63 L137.71 576.12 L138.42 576.51 L139.13 576.95 L139.84 577.15 L140.55 577.42 L141.26 577.79 L141.97 577.95 L142.68 578.30 L143.39 578.36 L144.10 579.04 L144.81 579.07 L145.52 579.73 L146.23 579.90 L146.94 580.04 L147.65 580.26 L148.35 580.63 L149.06 581.13 L149.77 581.47 L150.48 581.49 L151.19 581.78 L151.90 582.32 L152.61 582.65 L153.32 582.87 L154.03 583.09 L154.74 583.59 L155.45 583.61 L156.16 584.06 L156.87 584.45 L157.58 585.01 L158.29 585.16 L159.00 585.59 L159.70 585.66 L160.41 585.82 L161.11 586.10 L161.82 586.73 L162.52 586.88 L163.23 586.95 L163.93 587.09 L164.64 587.60 L165.34 587.96 L166.05 588.11 L166.75 588.30 L167.45 588.78 L168.16 589.19 L168.86 589.11 L169.57 589.29 L170.27 589.72 L170.98 590.04 L171.68 590.44 L172.39 590.47 L173.09 591.05 L173.80 591.29 L174.50 591.45 L175.20 591.58 L175.91 592.23 L176.61 592.18 L177.32 592.71 L178.02 592.69 L178.73 592.96 L179.43 593.51 L180.14 593.55 L180.84 594.15 L181.55 594.20 L182.25 594.32 L182.95 594.61 L183.66 594.98 L184.36 595.38 L185.07 595.80 L185.77 595.67 L186.48 596.07 L187.18 596.26 L187.89 596.91 L188.59 596.77 L189.30 597.00 L190.00 597.28 L190.71 597.72 L191.43 598.24 L192.14 598.51 L192.86 598.70 L193.57 599.11 L194.29 599.34 L195.00 599.31 L195.71 599.51 L196.43 600.16 L197.14 600.34 L197.86 600.25 L198.57 600.84 L199.29 600.97 L200.00 601.24 L200.71 601.49 L201.43 601.68 L202.14 601.87 L202.86 602.28 L203.57 602.58 L204.29 603.16 L205.00 603.01 L205.71 603.70 L206.43 603.60 L207.14 603.94 L207.86 604.45 L208.57 604.72 L209.29 604.79 L210.00 604.87 L210.71 605.36 L211.43 605.58 L212.14 606.12 L212.86 606.03 L213.57 606.39 L214.29 606.93 L215.00 606.77 L215.72 607.09 L216.44 607.43 L217.17 607.55 L217.89 607.33 L218.61 607.46 L219.33 607.61 L220.06 608.18 L220.78 607.99 L221.50 608.37 L222.22 608.59 L222.94 608.45 L223.67 608.55 L224.39 609.03 L225.11 609.00 L225.83 608.96 L226.56 609.33 L227.28 609.27 L228.00 609.39 L228.71 609.20 L229.41 609.52 L230.12 609.55 L230.82 609.36 L231.53 609.46 L232.24 608.94 L232.94 609.00 L233.65 609.06 L234.35 609.25 L235.06 609.20 L235.76 608.86 L236.47 608.74 L237.18 608.78 L237.88 608.76 L238.59 608.92 L239.29 608.49 L240.00 608.75 L240.73 608.65 L241.45 608.62 L242.18 608.52 L242.91 608.36 L243.64 608.15 L244.36 608.07 L245.09 608.02 L245.82 608.16 L246.55 607.73 L247.27 607.72 L248.00 607.93 L249.00 606.27 L250.00 604.78 L251.00 604.27 L252.00 604.03 L252.75 603.16 L253.50 602.74 L254.00 600.50" fill="none" stroke="#d2186f" stroke-width="1.15" stroke-linejoin="round"/>
<text x="131.30" y="542.80" font-size="6.7" text-anchor="start" fill="#333" stroke="#333" stroke-width="0.18" textLength="56.6" lengthAdjust="spacingAndGlyphs">GLYCOLYSIS genes</text>
<rect x="190.50" y="548.10" width="12.40" height="6.00" fill="#c4c4c4"/>
<text x="196.70" y="553.20" font-size="6" text-anchor="middle" fill="#444" stroke="#444" stroke-width="0.18" textLength="9.920000000000005" lengthAdjust="spacingAndGlyphs">NES</text>
<rect x="209.70" y="548.10" width="11.30" height="6.00" fill="#c4c4c4"/>
<text x="215.35" y="553.20" font-size="6" text-anchor="middle" fill="#444" stroke="#444" stroke-width="0.18" textLength="9.04000000000001" lengthAdjust="spacingAndGlyphs">P.val</text>
<rect x="231.70" y="548.10" width="12.70" height="6.00" fill="#c4c4c4"/>
<text x="238.05" y="553.20" font-size="6" text-anchor="middle" fill="#444" stroke="#444" stroke-width="0.18" textLength="10.160000000000014" lengthAdjust="spacingAndGlyphs">P.adj</text>
<line x1="153.70" y1="560.00" x2="160.40" y2="560.00" stroke="#d2186f" stroke-width="1.1"/>
<line x1="153.70" y1="567.00" x2="160.40" y2="567.00" stroke="#2fa0d8" stroke-width="1.1"/>
<text x="163.60" y="562.40" font-size="7.2" text-anchor="start" fill="#333" stroke="#333" stroke-width="0.18" textLength="22.8" lengthAdjust="spacingAndGlyphs">Patients</text>
<text x="163.60" y="569.40" font-size="7.2" text-anchor="start" fill="#333" stroke="#333" stroke-width="0.18">HC</text>
<text x="191.00" y="562.40" font-size="7.2" text-anchor="start" fill="#333" stroke="#333" stroke-width="0.18">1.36</text>
<text x="191.00" y="569.40" font-size="7.2" text-anchor="start" fill="#333" stroke="#333" stroke-width="0.18">1.49</text>
<text x="209.20" y="562.40" font-size="7.2" text-anchor="start" fill="#333" stroke="#333" stroke-width="0.18">.0097</text>
<text x="209.20" y="569.40" font-size="7.2" text-anchor="start" fill="#333" stroke="#333" stroke-width="0.18">.0013</text>
<text x="231.20" y="562.40" font-size="7.2" text-anchor="start" fill="#333" stroke="#333" stroke-width="0.18">.0162</text>
<text x="231.20" y="569.40" font-size="7.2" text-anchor="start" fill="#333" stroke="#333" stroke-width="0.18">.0027</text>
<line x1="315.50" y1="549.55" x2="315.50" y2="673.30" stroke="#222" stroke-width="1.1"/>
<line x1="312.50" y1="551.75" x2="315.50" y2="551.75" stroke="#222" stroke-width="0.9"/>
<text x="309.50" y="554.05" font-size="6.8" text-anchor="end" fill="#333" stroke="#333" stroke-width="0.18">0.50</text>
<line x1="312.50" y1="571.75" x2="315.50" y2="571.75" stroke="#222" stroke-width="0.9"/>
<text x="309.50" y="574.05" font-size="6.8" text-anchor="end" fill="#333" stroke="#333" stroke-width="0.18">0.25</text>
<line x1="312.50" y1="591.75" x2="315.50" y2="591.75" stroke="#222" stroke-width="0.9"/>
<text x="309.50" y="594.05" font-size="6.8" text-anchor="end" fill="#333" stroke="#333" stroke-width="0.18">0.00</text>
<line x1="312.50" y1="611.75" x2="315.50" y2="611.75" stroke="#222" stroke-width="0.9"/>
<text x="309.50" y="614.05" font-size="6.8" text-anchor="end" fill="#333" stroke="#333" stroke-width="0.18">−0.25</text>
<line x1="316.50" y1="591.75" x2="502.80" y2="591.75" stroke="#c4c4c4" stroke-width="0.9" stroke-dasharray="3.6 2.8"/>
<rect x="315.40" y="614.3" width="2.30" height="11.0" fill="#d2186f"/><rect x="320.60" y="614.3" width="40.40" height="11.0" fill="#d2186f"/><rect x="322.58" y="614.3" width="0.50" height="11.0" fill="#ffffff" opacity="0.8"/><rect x="324.05" y="614.3" width="0.40" height="11.0" fill="#ea7fae" opacity="0.8"/><rect x="326.25" y="614.3" width="0.70" height="11.0" fill="#ea7fae" opacity="0.8"/><rect x="328.09" y="614.3" width="0.40" height="11.0" fill="#ea7fae" opacity="0.8"/><rect x="330.22" y="614.3" width="0.70" height="11.0" fill="#ea7fae" opacity="0.8"/><rect x="333.21" y="614.3" width="0.70" height="11.0" fill="#ea7fae" opacity="0.8"/><rect x="336.27" y="614.3" width="0.50" height="11.0" fill="#ea7fae" opacity="0.8"/><rect x="338.13" y="614.3" width="0.50" height="11.0" fill="#ea7fae" opacity="0.8"/><rect x="339.94" y="614.3" width="0.50" height="11.0" fill="#ea7fae" opacity="0.8"/><rect x="342.12" y="614.3" width="0.40" height="11.0" fill="#ea7fae" opacity="0.8"/><rect x="343.79" y="614.3" width="0.50" height="11.0" fill="#ffffff" opacity="0.8"/><rect x="345.46" y="614.3" width="0.40" height="11.0" fill="#ea7fae" opacity="0.8"/><rect x="347.17" y="614.3" width="0.40" height="11.0" fill="#ffffff" opacity="0.8"/><rect x="349.42" y="614.3" width="0.70" height="11.0" fill="#ea7fae" opacity="0.8"/><rect x="352.23" y="614.3" width="0.40" height="11.0" fill="#ea7fae" opacity="0.8"/><rect x="353.44" y="614.3" width="0.40" height="11.0" fill="#ea7fae" opacity="0.8"/><rect x="356.46" y="614.3" width="0.40" height="11.0" fill="#ea7fae" opacity="0.8"/><rect x="358.13" y="614.3" width="0.40" height="11.0" fill="#ea7fae" opacity="0.8"/><rect x="362.00" y="614.3" width="0.80" height="11.0" fill="#d2186f"/><rect x="363.52" y="614.3" width="0.80" height="11.0" fill="#ea7fae"/><rect x="365.64" y="614.3" width="0.60" height="11.0" fill="#d2186f"/><rect x="367.90" y="614.3" width="0.50" height="11.0" fill="#d2186f"/><rect x="371.50" y="614.3" width="3.90" height="11.0" fill="#d2186f"/><rect x="372.93" y="614.3" width="0.40" height="11.0" fill="#ea7fae" opacity="0.8"/><rect x="376.40" y="614.3" width="1.90" height="11.0" fill="#d2186f"/><rect x="377.11" y="614.3" width="0.40" height="11.0" fill="#ea7fae" opacity="0.8"/><rect x="380.00" y="614.3" width="6.00" height="11.0" fill="#d2186f"/><rect x="381.60" y="614.3" width="0.40" height="11.0" fill="#ea7fae" opacity="0.8"/><rect x="384.44" y="614.3" width="0.50" height="11.0" fill="#ffffff" opacity="0.8"/><rect x="388.80" y="614.3" width="1.00" height="11.0" fill="#d2186f"/><rect x="415.00" y="614.3" width="5.00" height="11.0" fill="#d2186f"/><rect x="415.62" y="614.3" width="0.40" height="11.0" fill="#ea7fae" opacity="0.8"/><rect x="417.91" y="614.3" width="0.40" height="11.0" fill="#ea7fae" opacity="0.8"/><rect x="419.32" y="614.3" width="0.50" height="11.0" fill="#ffffff" opacity="0.8"/><rect x="424.20" y="614.3" width="1.00" height="11.0" fill="#d2186f"/><rect x="433.30" y="614.3" width="5.00" height="11.0" fill="#d2186f"/><rect x="433.94" y="614.3" width="0.40" height="11.0" fill="#ea7fae" opacity="0.8"/><rect x="436.53" y="614.3" width="0.50" height="11.0" fill="#ea7fae" opacity="0.8"/><rect x="440.40" y="614.3" width="11.10" height="11.0" fill="#d2186f"/><rect x="441.53" y="614.3" width="0.40" height="11.0" fill="#ea7fae" opacity="0.8"/><rect x="444.22" y="614.3" width="0.50" height="11.0" fill="#ea7fae" opacity="0.8"/><rect x="446.35" y="614.3" width="0.50" height="11.0" fill="#ffffff" opacity="0.8"/><rect x="448.04" y="614.3" width="0.70" height="11.0" fill="#ea7fae" opacity="0.8"/><rect x="449.95" y="614.3" width="0.40" height="11.0" fill="#ea7fae" opacity="0.8"/><rect x="453.50" y="614.3" width="2.00" height="11.0" fill="#d2186f"/><rect x="454.64" y="614.3" width="0.40" height="11.0" fill="#ea7fae" opacity="0.8"/><rect x="458.50" y="614.3" width="11.10" height="11.0" fill="#d2186f"/><rect x="459.55" y="614.3" width="0.40" height="11.0" fill="#ea7fae" opacity="0.8"/><rect x="460.78" y="614.3" width="0.70" height="11.0" fill="#ea7fae" opacity="0.8"/><rect x="463.56" y="614.3" width="0.50" height="11.0" fill="#ea7fae" opacity="0.8"/><rect x="466.00" y="614.3" width="0.50" height="11.0" fill="#ffffff" opacity="0.8"/><rect x="468.31" y="614.3" width="0.40" height="11.0" fill="#ea7fae" opacity="0.8"/><rect x="473.70" y="614.3" width="7.10" height="11.0" fill="#d2186f"/><rect x="474.98" y="614.3" width="0.40" height="11.0" fill="#ea7fae" opacity="0.8"/><rect x="476.95" y="614.3" width="0.40" height="11.0" fill="#ea7fae" opacity="0.8"/><rect x="478.40" y="614.3" width="0.40" height="11.0" fill="#ea7fae" opacity="0.8"/><rect x="482.80" y="614.3" width="2.00" height="11.0" fill="#d2186f"/><rect x="488.80" y="614.3" width="7.10" height="11.0" fill="#d2186f"/><rect x="490.25" y="614.3" width="0.40" height="11.0" fill="#ffffff" opacity="0.8"/><rect x="492.70" y="614.3" width="0.40" height="11.0" fill="#ffffff" opacity="0.8"/><rect x="497.90" y="614.3" width="3.60" height="11.0" fill="#d2186f"/><rect x="498.73" y="614.3" width="0.50" height="11.0" fill="#ffffff" opacity="0.8"/>
<rect x="315.40" y="626.3" width="2.30" height="10.5" fill="#2fa0d8"/><rect x="318.70" y="626.3" width="1.90" height="10.5" fill="#2fa0d8"/><rect x="319.47" y="626.3" width="0.40" height="10.5" fill="#8fcdec" opacity="0.8"/><rect x="321.50" y="626.3" width="0.80" height="10.5" fill="#2fa0d8"/><rect x="323.47" y="626.3" width="0.50" height="10.5" fill="#2fa0d8"/><rect x="329.20" y="626.3" width="38.50" height="10.5" fill="#2fa0d8"/><rect x="331.05" y="626.3" width="0.40" height="10.5" fill="#ffffff" opacity="0.8"/><rect x="333.93" y="626.3" width="0.70" height="10.5" fill="#8fcdec" opacity="0.8"/><rect x="336.77" y="626.3" width="0.50" height="10.5" fill="#8fcdec" opacity="0.8"/><rect x="338.85" y="626.3" width="0.50" height="10.5" fill="#ffffff" opacity="0.8"/><rect x="341.84" y="626.3" width="0.50" height="10.5" fill="#ffffff" opacity="0.8"/><rect x="343.98" y="626.3" width="0.70" height="10.5" fill="#8fcdec" opacity="0.8"/><rect x="346.34" y="626.3" width="0.70" height="10.5" fill="#8fcdec" opacity="0.8"/><rect x="348.73" y="626.3" width="0.50" height="10.5" fill="#8fcdec" opacity="0.8"/><rect x="350.08" y="626.3" width="0.70" height="10.5" fill="#8fcdec" opacity="0.8"/><rect x="352.51" y="626.3" width="0.50" height="10.5" fill="#ffffff" opacity="0.8"/><rect x="355.37" y="626.3" width="0.50" height="10.5" fill="#8fcdec" opacity="0.8"/><rect x="358.29" y="626.3" width="0.50" height="10.5" fill="#8fcdec" opacity="0.8"/><rect x="359.72" y="626.3" width="0.50" height="10.5" fill="#8fcdec" opacity="0.8"/><rect x="361.75" y="626.3" width="0.50" height="10.5" fill="#ffffff" opacity="0.8"/><rect x="364.07" y="626.3" width="0.40" height="10.5" fill="#8fcdec" opacity="0.8"/><rect x="366.55" y="626.3" width="0.40" height="10.5" fill="#ffffff" opacity="0.8"/><rect x="371.50" y="626.3" width="2.00" height="10.5" fill="#2fa0d8"/><rect x="375.40" y="626.3" width="1.00" height="10.5" fill="#2fa0d8"/><rect x="388.00" y="626.3" width="3.70" height="10.5" fill="#2fa0d8"/><rect x="389.63" y="626.3" width="0.50" height="10.5" fill="#ffffff" opacity="0.8"/><rect x="393.70" y="626.3" width="0.90" height="10.5" fill="#2fa0d8"/><rect x="398.50" y="626.3" width="1.00" height="10.5" fill="#2fa0d8"/><rect x="405.00" y="626.3" width="1.00" height="10.5" fill="#2fa0d8"/><rect x="410.70" y="626.3" width="4.30" height="10.5" fill="#2fa0d8"/><rect x="412.30" y="626.3" width="0.40" height="10.5" fill="#8fcdec" opacity="0.8"/><rect x="413.76" y="626.3" width="0.50" height="10.5" fill="#8fcdec" opacity="0.8"/><rect x="428.00" y="626.3" width="5.00" height="10.5" fill="#2fa0d8"/><rect x="429.87" y="626.3" width="0.40" height="10.5" fill="#ffffff" opacity="0.8"/><rect x="435.30" y="626.3" width="0.50" height="10.5" fill="#2fa0d8"/><rect x="436.96" y="626.3" width="0.60" height="10.5" fill="#2fa0d8"/><rect x="439.60" y="626.3" width="0.60" height="10.5" fill="#8fcdec"/><rect x="441.53" y="626.3" width="0.60" height="10.5" fill="#2fa0d8"/><rect x="444.20" y="626.3" width="0.50" height="10.5" fill="#2fa0d8"/><rect x="446.28" y="626.3" width="0.50" height="10.5" fill="#2fa0d8"/><rect x="447.44" y="626.3" width="0.50" height="10.5" fill="#2fa0d8"/><rect x="449.56" y="626.3" width="0.60" height="10.5" fill="#2fa0d8"/><rect x="453.50" y="626.3" width="18.20" height="10.5" fill="#2fa0d8"/><rect x="454.25" y="626.3" width="0.50" height="10.5" fill="#8fcdec" opacity="0.8"/><rect x="457.09" y="626.3" width="0.40" height="10.5" fill="#ffffff" opacity="0.8"/><rect x="460.01" y="626.3" width="0.50" height="10.5" fill="#ffffff" opacity="0.8"/><rect x="462.35" y="626.3" width="0.70" height="10.5" fill="#8fcdec" opacity="0.8"/><rect x="464.35" y="626.3" width="0.70" height="10.5" fill="#ffffff" opacity="0.8"/><rect x="467.57" y="626.3" width="0.70" height="10.5" fill="#8fcdec" opacity="0.8"/><rect x="469.60" y="626.3" width="0.50" height="10.5" fill="#ffffff" opacity="0.8"/><rect x="474.70" y="626.3" width="26.80" height="10.5" fill="#2fa0d8"/><rect x="475.70" y="626.3" width="0.40" height="10.5" fill="#8fcdec" opacity="0.8"/><rect x="477.36" y="626.3" width="0.70" height="10.5" fill="#ffffff" opacity="0.8"/><rect x="480.77" y="626.3" width="0.50" height="10.5" fill="#ffffff" opacity="0.8"/><rect x="482.58" y="626.3" width="0.70" height="10.5" fill="#ffffff" opacity="0.8"/><rect x="485.94" y="626.3" width="0.50" height="10.5" fill="#ffffff" opacity="0.8"/><rect x="487.24" y="626.3" width="0.40" height="10.5" fill="#8fcdec" opacity="0.8"/><rect x="488.74" y="626.3" width="0.70" height="10.5" fill="#ffffff" opacity="0.8"/><rect x="491.10" y="626.3" width="0.70" height="10.5" fill="#8fcdec" opacity="0.8"/><rect x="494.39" y="626.3" width="0.40" height="10.5" fill="#8fcdec" opacity="0.8"/><rect x="496.05" y="626.3" width="0.70" height="10.5" fill="#8fcdec" opacity="0.8"/><rect x="497.59" y="626.3" width="0.40" height="10.5" fill="#ffffff" opacity="0.8"/><rect x="499.50" y="626.3" width="0.40" height="10.5" fill="#ffffff" opacity="0.8"/>
<line x1="312.50" y1="640.90" x2="315.50" y2="640.90" stroke="#222" stroke-width="0.9"/>
<text x="309.50" y="643.20" font-size="6.8" text-anchor="end" fill="#333" stroke="#333" stroke-width="0.18">10</text>
<line x1="312.50" y1="648.15" x2="315.50" y2="648.15" stroke="#222" stroke-width="0.9"/>
<text x="309.50" y="650.45" font-size="6.8" text-anchor="end" fill="#333" stroke="#333" stroke-width="0.18">5</text>
<line x1="312.50" y1="655.40" x2="315.50" y2="655.40" stroke="#222" stroke-width="0.9"/>
<text x="309.50" y="657.70" font-size="6.8" text-anchor="end" fill="#333" stroke="#333" stroke-width="0.18">0</text>
<line x1="312.50" y1="662.65" x2="315.50" y2="662.65" stroke="#222" stroke-width="0.9"/>
<text x="309.50" y="664.95" font-size="6.8" text-anchor="end" fill="#333" stroke="#333" stroke-width="0.18">−5</text>
<line x1="312.50" y1="669.90" x2="315.50" y2="669.90" stroke="#222" stroke-width="0.9"/>
<text x="309.50" y="672.20" font-size="6.8" text-anchor="end" fill="#333" stroke="#333" stroke-width="0.18">−10</text>
<line x1="315.50" y1="673.30" x2="502.80" y2="673.30" stroke="#222" stroke-width="1.1"/>
<line x1="368.00" y1="673.30" x2="368.00" y2="676.30" stroke="#222" stroke-width="0.9"/>
<text x="368.00" y="685.00" font-size="6.8" text-anchor="middle" fill="#333" stroke="#333" stroke-width="0.18">10000</text>
<line x1="420.90" y1="673.30" x2="420.90" y2="676.30" stroke="#222" stroke-width="0.9"/>
<text x="420.90" y="685.00" font-size="6.8" text-anchor="middle" fill="#333" stroke="#333" stroke-width="0.18">20000</text>
<line x1="473.80" y1="673.30" x2="473.80" y2="676.30" stroke="#222" stroke-width="0.9"/>
<text x="473.80" y="685.00" font-size="6.8" text-anchor="middle" fill="#333" stroke="#333" stroke-width="0.18">30000</text>
<text x="411.70" y="696.60" font-size="8.6" text-anchor="middle" fill="#333" stroke="#333" stroke-width="0.18" textLength="71.6" lengthAdjust="spacingAndGlyphs">Rank in ordered dataset</text>
<text x="276.80" y="576.20" font-size="8.6" text-anchor="middle" fill="#333" stroke="#333" stroke-width="0.18" transform="rotate(-90 276.8 576.2)" textLength="62.5" lengthAdjust="spacingAndGlyphs">Running enrichment</text>
<text x="288.30" y="575.80" font-size="8.6" text-anchor="middle" fill="#333" stroke="#333" stroke-width="0.18" transform="rotate(-90 288.3 575.8)" textLength="16" lengthAdjust="spacingAndGlyphs">score</text>
<text x="287.60" y="649.40" font-size="8.6" text-anchor="middle" fill="#333" stroke="#333" stroke-width="0.18" transform="rotate(-90 287.6 649.4)" textLength="53.7" lengthAdjust="spacingAndGlyphs">Ranked list metric</text>
<path d="M315.50 655.4 L315.50 647.5 C319.50 652,325.50 654.6,340.50 655 L427.88 655.4 Z" fill="#d2d2d2"/><path d="M418.51 655.4 L482.80 656.4 C494.80 657.5,500.80 660,502.50 672.8 L502.50 655.4 Z" fill="#cdcdcd"/>
<line x1="315.50" y1="655.40" x2="502.80" y2="655.40" stroke="#b8b8b8" stroke-width="0.8"/>
<text x="321.50" y="648.70" font-size="7.6" text-anchor="start" fill="#444" stroke="#444" stroke-width="0.18" textLength="56.2" lengthAdjust="spacingAndGlyphs">Upregulated genes</text>
<text x="495.30" y="668.60" font-size="7.6" text-anchor="end" fill="#444" stroke="#444" stroke-width="0.18" textLength="64.6" lengthAdjust="spacingAndGlyphs">Downregulated genes</text>
<path d="M315.60 591.36 L316.33 591.29 L317.07 591.04 L317.80 590.60 L318.53 590.56 L319.27 590.24 L320.00 589.82 L320.71 590.08 L321.43 589.59 L322.14 589.40 L322.86 589.23 L323.57 589.35 L324.29 589.33 L325.00 589.14 L325.75 588.83 L326.50 588.63 L327.25 588.38 L328.00 588.57 L329.00 587.38 L330.00 586.13 L330.71 584.84 L331.43 583.31 L332.14 582.13 L332.86 580.60 L333.57 578.93 L334.29 577.83 L335.00 575.97 L335.71 575.50 L336.43 574.72 L337.14 573.93 L337.86 573.12 L338.57 572.77 L339.29 571.67 L340.00 571.23 L340.71 571.06 L341.43 570.31 L342.14 569.98 L342.86 569.83 L343.57 569.42 L344.29 569.13 L345.00 568.86 L345.71 568.18 L346.43 567.89 L347.14 567.53 L347.86 567.05 L348.57 567.11 L349.29 566.70 L350.00 566.31 L350.71 565.81 L351.43 566.09 L352.14 565.89 L352.86 565.61 L353.57 565.61 L354.29 565.32 L355.00 565.06 L355.71 564.86 L356.43 564.78 L357.14 564.54 L357.86 564.55 L358.57 564.61 L359.29 564.44 L360.00 564.37 L360.71 564.36 L361.43 564.20 L362.14 564.40 L362.86 564.40 L363.57 564.63 L364.29 564.55 L365.00 564.48 L365.71 564.73 L366.43 564.95 L367.14 564.63 L367.86 565.02 L368.57 564.64 L369.29 564.82 L370.00 564.87 L370.71 565.48 L371.43 565.94 L372.14 566.19 L372.86 566.34 L373.57 566.98 L374.29 567.06 L375.00 567.37 L375.71 568.06 L376.43 568.28 L377.14 568.67 L377.86 569.01 L378.57 569.53 L379.29 569.63 L380.00 570.17 L380.71 570.46 L381.43 570.89 L382.14 571.04 L382.86 571.54 L383.57 571.82 L384.29 572.05 L385.00 572.36 L385.71 572.86 L386.43 572.88 L387.14 573.59 L387.86 573.50 L388.57 573.74 L389.29 574.07 L390.00 574.78 L390.71 574.78 L391.43 574.98 L392.14 575.22 L392.86 575.52 L393.57 576.14 L394.29 576.41 L395.00 576.73 L395.71 577.05 L396.43 577.01 L397.14 577.56 L397.86 577.75 L398.57 578.27 L399.29 578.56 L400.00 578.90 L400.71 578.80 L401.43 579.51 L402.14 579.85 L402.86 580.18 L403.57 580.07 L404.29 580.44 L405.00 580.71 L405.71 580.98 L406.43 581.70 L407.14 582.00 L407.86 582.22 L408.57 582.63 L409.29 582.85 L410.00 582.99 L410.71 583.21 L411.43 583.53 L412.14 584.17 L412.86 584.21 L413.57 584.58 L414.29 584.95 L415.00 585.06 L415.71 585.49 L416.43 585.82 L417.14 586.35 L417.86 586.49 L418.57 586.78 L419.29 587.42 L420.00 587.50 L420.71 587.99 L421.43 588.18 L422.14 588.20 L422.86 588.70 L423.57 589.02 L424.29 589.50 L425.00 589.60 L425.71 590.09 L426.43 590.32 L427.14 590.47 L427.86 591.10 L428.57 591.02 L429.29 591.70 L430.00 591.69 L430.71 591.91 L431.43 592.32 L432.14 592.91 L432.86 593.33 L433.57 593.16 L434.29 593.71 L435.00 594.02 L435.71 594.48 L436.43 594.49 L437.14 594.95 L437.86 595.19 L438.57 595.74 L439.29 595.77 L440.00 596.42 L440.71 596.32 L441.43 596.51 L442.14 596.97 L442.86 597.10 L443.57 597.13 L444.29 597.62 L445.00 597.57 L445.71 598.14 L446.43 598.32 L447.14 598.59 L447.86 598.74 L448.57 598.83 L449.29 599.08 L450.00 599.30 L450.71 599.77 L451.43 599.59 L452.14 600.22 L452.86 600.01 L453.57 600.33 L454.29 600.58 L455.00 601.13 L455.71 601.15 L456.43 601.31 L457.14 601.79 L457.86 601.69 L458.57 602.03 L459.29 602.29 L460.00 602.63 L460.71 602.76 L461.43 602.84 L462.14 602.82 L462.86 602.94 L463.57 602.99 L464.29 603.46 L465.00 603.51 L465.71 603.68 L466.43 603.52 L467.14 603.79 L467.86 604.09 L468.57 604.13 L469.29 604.03 L470.00 604.33 L470.71 604.67 L471.43 604.48 L472.14 604.59 L472.86 604.78 L473.57 605.11 L474.29 605.31 L475.00 605.10 L475.71 605.24 L476.43 605.41 L477.14 605.58 L477.86 605.81 L478.57 605.77 L479.29 605.98 L480.00 606.04 L480.73 606.37 L481.45 606.19 L482.18 605.81 L482.91 606.18 L483.64 605.68 L484.36 605.76 L485.09 606.00 L485.82 605.84 L486.55 605.74 L487.27 605.53 L488.00 605.35 L488.70 605.02 L489.40 604.20 L490.10 603.70 L490.80 603.24 L491.50 602.52 L492.20 602.15 L492.90 601.80 L493.60 601.20 L494.30 600.55 L495.00 600.07 L495.71 599.08 L496.43 598.02 L497.14 597.35 L497.86 596.35 L498.57 595.62 L499.29 594.80 L500.00 593.67 L500.75 592.81 L501.50 591.97 L502.25 590.89 L503.00 590.00" fill="none" stroke="#2fa0d8" stroke-width="1.15" stroke-linejoin="round"/>
<path d="M315.60 591.36 L316.40 591.28 L317.20 591.02 L318.00 590.64 L319.00 590.35 L320.00 590.18 L321.00 589.34 L322.00 588.57 L322.75 587.90 L323.50 587.26 L324.25 586.84 L325.00 586.00 L325.71 585.63 L326.43 585.28 L327.14 584.72 L327.86 584.15 L328.57 583.43 L329.29 582.99 L330.00 582.48 L330.71 581.66 L331.43 580.65 L332.14 579.89 L332.86 579.12 L333.57 577.84 L334.29 577.18 L335.00 576.34 L335.71 575.07 L336.43 574.05 L337.14 573.22 L337.86 571.68 L338.57 570.86 L339.29 569.60 L340.00 568.84 L340.71 567.85 L341.43 566.57 L342.14 565.29 L342.86 564.45 L343.57 563.36 L344.29 562.38 L345.00 561.21 L345.71 560.74 L346.43 560.31 L347.14 559.63 L347.86 559.04 L348.57 558.78 L349.29 557.88 L350.00 557.59 L350.71 557.26 L351.43 557.26 L352.14 556.75 L352.86 557.00 L353.57 556.50 L354.29 556.16 L355.00 556.09 L355.71 556.22 L356.43 556.10 L357.14 556.37 L357.86 556.45 L358.57 556.66 L359.29 556.55 L360.00 556.58 L360.71 556.71 L361.43 557.11 L362.14 557.35 L362.86 557.28 L363.57 557.27 L364.29 557.71 L365.00 557.65 L365.71 557.70 L366.43 557.80 L367.14 558.27 L367.86 558.43 L368.57 558.48 L369.29 558.54 L370.00 558.73 L370.71 558.92 L371.43 559.65 L372.14 559.70 L372.86 560.20 L373.57 560.65 L374.29 561.00 L375.00 561.18 L375.71 561.45 L376.43 561.94 L377.14 562.08 L377.86 562.80 L378.57 562.91 L379.29 563.52 L380.00 563.58 L380.71 564.00 L381.43 564.29 L382.14 564.73 L382.86 564.97 L383.57 565.24 L384.29 565.95 L385.00 566.09 L385.71 566.31 L386.43 566.58 L387.14 566.90 L387.86 567.12 L388.57 567.46 L389.29 567.71 L390.00 567.80 L390.71 568.32 L391.43 568.52 L392.14 568.36 L392.86 568.98 L393.57 569.26 L394.29 569.44 L395.00 569.35 L395.71 569.94 L396.43 570.08 L397.14 570.01 L397.86 570.24 L398.57 570.95 L399.29 571.04 L400.00 571.08 L400.71 571.32 L401.43 571.65 L402.14 572.01 L402.86 572.60 L403.57 572.69 L404.29 572.91 L405.00 573.60 L405.71 573.86 L406.43 573.86 L407.14 574.54 L407.86 574.71 L408.57 575.11 L409.29 575.37 L410.00 575.80 L410.71 576.06 L411.43 576.40 L412.14 576.39 L412.86 576.95 L413.57 577.19 L414.29 577.61 L415.00 577.77 L415.71 578.31 L416.43 578.46 L417.14 578.63 L417.86 578.92 L418.57 579.19 L419.29 579.68 L420.00 579.78 L420.71 580.29 L421.43 580.44 L422.14 580.93 L422.86 581.24 L423.57 581.57 L424.29 582.05 L425.00 581.93 L425.71 582.66 L426.43 582.78 L427.14 583.14 L427.86 583.50 L428.57 583.90 L429.29 583.98 L430.00 584.31 L430.71 584.89 L431.43 584.76 L432.14 585.35 L432.86 585.66 L433.57 585.67 L434.29 586.27 L435.00 586.62 L435.71 587.05 L436.43 587.06 L437.14 587.70 L437.86 587.77 L438.57 588.07 L439.29 588.59 L440.00 588.47 L440.71 589.08 L441.43 589.30 L442.14 589.42 L442.86 589.95 L443.57 589.97 L444.29 590.29 L445.00 590.59 L445.71 590.98 L446.43 590.97 L447.14 591.35 L447.86 591.61 L448.57 591.94 L449.29 592.35 L450.00 592.35 L450.71 592.88 L451.43 592.94 L452.14 593.26 L452.86 593.41 L453.57 593.79 L454.29 594.29 L455.00 594.40 L455.71 594.74 L456.43 594.78 L457.14 595.04 L457.86 595.30 L458.57 595.71 L459.29 596.00 L460.00 596.34 L460.71 596.13 L461.43 596.63 L462.14 596.86 L462.86 596.85 L463.57 596.76 L464.29 597.04 L465.00 597.05 L465.71 597.30 L466.43 597.83 L467.14 597.83 L467.86 598.01 L468.57 598.23 L469.29 598.45 L470.00 598.46 L470.71 598.62 L471.43 598.78 L472.14 598.97 L472.86 599.08 L473.57 599.28 L474.29 599.20 L475.00 599.58 L475.71 599.55 L476.43 599.77 L477.14 599.51 L477.86 599.63 L478.57 599.63 L479.29 600.07 L480.00 600.21 L480.71 600.15 L481.43 600.08 L482.14 600.38 L482.86 600.43 L483.57 600.39 L484.29 600.31 L485.00 600.40 L485.71 600.32 L486.43 600.12 L487.14 600.04 L487.86 600.00 L488.57 600.00 L489.29 599.42 L490.00 599.53 L490.71 598.98 L491.43 598.74 L492.14 598.80 L492.86 598.39 L493.57 598.28 L494.29 597.76 L495.00 597.26 L495.71 596.80 L496.43 596.26 L497.14 595.79 L497.86 595.17 L498.57 594.27 L499.29 593.60 L500.00 592.80 L500.83 592.24 L501.67 591.19 L502.50 590.50" fill="none" stroke="#d2186f" stroke-width="1.15" stroke-linejoin="round"/>
<text x="386.30" y="543.00" font-size="6.7" text-anchor="start" fill="#333" stroke="#333" stroke-width="0.18" textLength="46.3" lengthAdjust="spacingAndGlyphs">OXPHOS genes</text>
<rect x="441.25" y="548.75" width="12.50" height="6.00" fill="#c4c4c4"/>
<text x="447.50" y="553.85" font-size="6" text-anchor="middle" fill="#444" stroke="#444" stroke-width="0.18" textLength="10.0" lengthAdjust="spacingAndGlyphs">NES</text>
<rect x="460.00" y="548.75" width="12.00" height="6.00" fill="#c4c4c4"/>
<text x="466.00" y="553.85" font-size="6" text-anchor="middle" fill="#444" stroke="#444" stroke-width="0.18" textLength="9.600000000000001" lengthAdjust="spacingAndGlyphs">P.val</text>
<rect x="482.00" y="548.75" width="13.00" height="6.00" fill="#c4c4c4"/>
<text x="488.50" y="553.85" font-size="6" text-anchor="middle" fill="#444" stroke="#444" stroke-width="0.18" textLength="10.4" lengthAdjust="spacingAndGlyphs">P.adj</text>
<line x1="405.00" y1="561.50" x2="412.00" y2="561.50" stroke="#d2186f" stroke-width="1.1"/>
<line x1="405.00" y1="568.70" x2="412.00" y2="568.70" stroke="#2fa0d8" stroke-width="1.1"/>
<text x="414.50" y="563.90" font-size="7.2" text-anchor="start" fill="#333" stroke="#333" stroke-width="0.18" textLength="22.8" lengthAdjust="spacingAndGlyphs">Patients</text>
<text x="414.50" y="571.10" font-size="7.2" text-anchor="start" fill="#333" stroke="#333" stroke-width="0.18">HC</text>
<text x="441.75" y="563.90" font-size="7.2" text-anchor="start" fill="#333" stroke="#333" stroke-width="0.18">1.59</text>
<text x="441.75" y="571.10" font-size="7.2" text-anchor="start" fill="#333" stroke="#333" stroke-width="0.18">1.21</text>
<text x="459.50" y="563.90" font-size="7.2" text-anchor="start" fill="#333" stroke="#333" stroke-width="0.18">.0002</text>
<text x="459.50" y="571.10" font-size="7.2" text-anchor="start" fill="#333" stroke="#333" stroke-width="0.18">.0636</text>
<text x="481.50" y="563.90" font-size="7.2" text-anchor="start" fill="#333" stroke="#333" stroke-width="0.18">.0005</text>
<text x="481.50" y="571.10" font-size="7.2" text-anchor="start" fill="#333" stroke="#333" stroke-width="0.18">.0775</text>
<rect x="0.5" y="0.5" width="519" height="705" fill="none" stroke="#555" stroke-width="1"/>
</svg></body></html>
